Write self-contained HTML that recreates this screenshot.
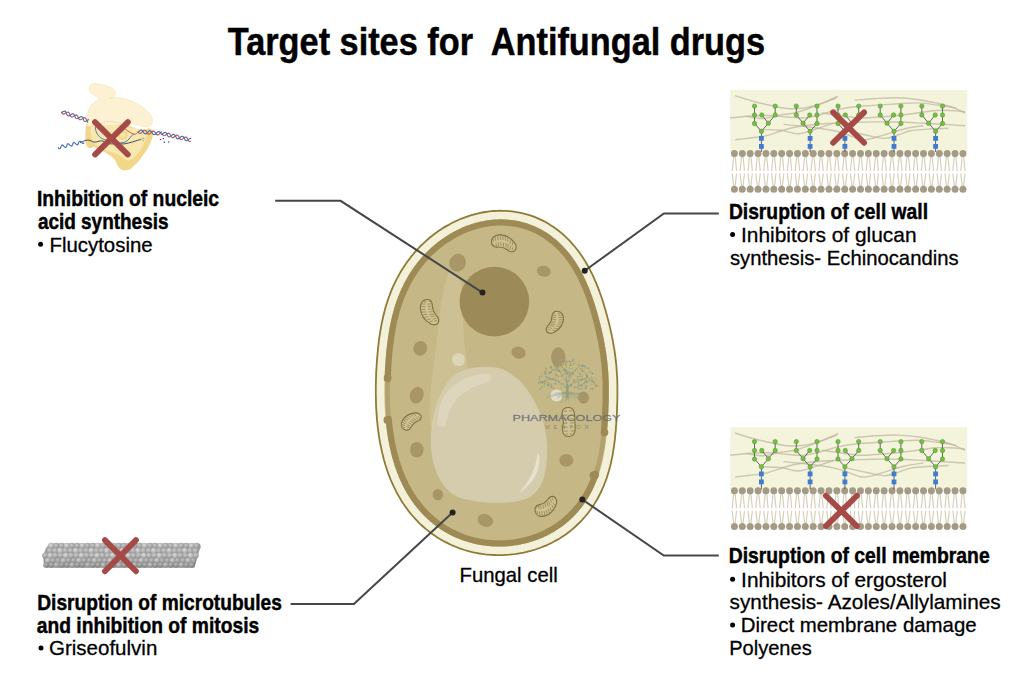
<!DOCTYPE html>
<html><head><meta charset="utf-8"><style>
html,body{margin:0;padding:0;background:#fff;}
body{width:1024px;height:677px;overflow:hidden;}
svg{display:block;font-family:"Liberation Sans", sans-serif;}
</style></head><body>
<svg width="1024" height="677" viewBox="0 0 1024 677">

<g id="cell">
 <path d="M 497.0,210.8 L 500.0,210.7 L 503.0,210.8 L 506.0,210.9 L 509.0,211.1 L 512.0,211.4 L 514.9,211.8 L 517.9,212.3 L 520.8,212.9 L 523.7,213.6 L 526.6,214.3 L 529.5,215.2 L 532.3,216.2 L 535.1,217.2 L 537.9,218.4 L 540.6,219.6 L 543.3,220.9 L 545.9,222.3 L 548.5,223.8 L 551.0,225.4 L 553.5,227.0 L 555.9,228.7 L 558.3,230.5 L 560.6,232.4 L 562.9,234.3 L 565.1,236.3 L 567.2,238.3 L 569.3,240.4 L 571.3,242.6 L 573.2,244.8 L 575.1,247.0 L 576.9,249.3 L 578.7,251.6 L 580.4,253.9 L 582.0,256.3 L 583.6,258.7 L 585.1,261.1 L 586.5,263.5 L 587.9,266.0 L 589.3,268.4 L 590.5,270.9 L 591.8,273.4 L 593.0,275.8 L 594.1,278.3 L 595.2,280.8 L 596.2,283.2 L 597.2,285.7 L 598.2,288.1 L 599.1,290.6 L 600.0,293.0 L 600.8,295.4 L 601.7,297.8 L 602.5,300.2 L 603.2,302.5 L 603.9,304.9 L 604.6,307.2 L 605.3,309.6 L 606.0,311.9 L 606.6,314.2 L 607.2,316.4 L 607.8,318.7 L 608.4,321.0 L 609.0,323.2 L 609.5,325.4 L 610.0,327.6 L 610.5,329.8 L 611.0,332.0 L 611.5,334.2 L 611.9,336.4 L 612.4,338.5 L 612.8,340.7 L 613.2,342.8 L 613.5,345.0 L 613.9,347.1 L 614.3,349.2 L 614.6,351.4 L 614.9,353.5 L 615.2,355.6 L 615.5,357.7 L 615.7,359.8 L 615.9,362.0 L 616.2,364.1 L 616.4,366.2 L 616.5,368.3 L 616.7,370.4 L 616.8,372.5 L 617.0,374.6 L 617.1,376.7 L 617.2,378.8 L 617.3,380.9 L 617.3,383.0 L 617.4,385.1 L 617.4,387.3 L 617.4,389.4 L 617.4,391.5 L 617.4,393.6 L 617.4,395.7 L 617.4,397.9 L 617.3,400.0 L 617.3,402.2 L 617.2,404.3 L 617.1,406.5 L 617.1,408.7 L 617.0,410.9 L 616.9,413.1 L 616.8,415.3 L 616.6,417.5 L 616.5,419.8 L 616.4,422.0 L 616.2,424.3 L 616.0,426.6 L 615.9,428.9 L 615.7,431.3 L 615.4,433.6 L 615.2,436.0 L 615.0,438.4 L 614.7,440.8 L 614.4,443.2 L 614.1,445.6 L 613.7,448.1 L 613.3,450.6 L 612.9,453.1 L 612.5,455.6 L 612.0,458.1 L 611.4,460.6 L 610.9,463.2 L 610.3,465.7 L 609.6,468.3 L 608.9,470.9 L 608.1,473.5 L 607.3,476.1 L 606.5,478.6 L 605.5,481.2 L 604.5,483.8 L 603.5,486.4 L 602.4,488.9 L 601.2,491.5 L 600.0,494.0 L 598.7,496.5 L 597.4,499.0 L 595.9,501.4 L 594.5,503.9 L 592.9,506.3 L 591.3,508.6 L 589.6,511.0 L 587.9,513.3 L 586.0,515.5 L 584.2,517.7 L 582.2,519.9 L 580.2,522.0 L 578.1,524.0 L 576.0,526.0 L 573.8,528.0 L 571.6,529.9 L 569.3,531.7 L 567.0,533.5 L 564.6,535.2 L 562.1,536.8 L 559.6,538.4 L 557.1,539.9 L 554.5,541.3 L 551.9,542.7 L 549.2,544.0 L 546.5,545.3 L 543.7,546.4 L 541.0,547.5 L 538.2,548.5 L 535.4,549.5 L 532.5,550.4 L 529.6,551.2 L 526.7,551.9 L 523.8,552.6 L 520.9,553.1 L 517.9,553.6 L 515.0,554.1 L 512.0,554.4 L 509.0,554.7 L 506.0,554.9 L 503.0,555.1 L 500.0,555.1 L 497.0,555.1 L 494.0,555.0 L 491.0,554.9 L 488.0,554.6 L 485.1,554.3 L 482.1,553.9 L 479.1,553.5 L 476.2,552.9 L 473.3,552.3 L 470.4,551.6 L 467.5,550.8 L 464.6,550.0 L 461.8,549.1 L 459.0,548.1 L 456.2,547.0 L 453.5,545.9 L 450.8,544.7 L 448.1,543.4 L 445.5,542.1 L 442.9,540.7 L 440.3,539.2 L 437.8,537.7 L 435.4,536.1 L 433.0,534.4 L 430.6,532.7 L 428.3,530.9 L 426.0,529.1 L 423.8,527.2 L 421.6,525.3 L 419.5,523.3 L 417.5,521.2 L 415.5,519.2 L 413.6,517.0 L 411.7,514.9 L 409.9,512.7 L 408.1,510.4 L 406.5,508.1 L 404.8,505.8 L 403.2,503.5 L 401.7,501.2 L 400.3,498.8 L 398.9,496.4 L 397.5,494.0 L 396.2,491.6 L 395.0,489.1 L 393.8,486.7 L 392.7,484.2 L 391.6,481.8 L 390.5,479.3 L 389.6,476.8 L 388.6,474.4 L 387.7,471.9 L 386.9,469.5 L 386.1,467.0 L 385.3,464.5 L 384.6,462.1 L 383.9,459.7 L 383.3,457.2 L 382.7,454.8 L 382.1,452.4 L 381.6,450.0 L 381.1,447.6 L 380.6,445.2 L 380.1,442.9 L 379.7,440.5 L 379.3,438.2 L 378.9,435.8 L 378.6,433.5 L 378.3,431.2 L 378.0,428.9 L 377.7,426.7 L 377.5,424.4 L 377.2,422.1 L 377.0,419.9 L 376.8,417.7 L 376.7,415.4 L 376.5,413.2 L 376.4,411.0 L 376.2,408.8 L 376.1,406.6 L 376.0,404.5 L 376.0,402.3 L 375.9,400.1 L 375.9,398.0 L 375.8,395.8 L 375.8,393.7 L 375.8,391.5 L 375.8,389.4 L 375.8,387.3 L 375.8,385.1 L 375.9,383.0 L 375.9,380.9 L 376.0,378.8 L 376.1,376.6 L 376.1,374.5 L 376.2,372.4 L 376.3,370.3 L 376.5,368.1 L 376.6,366.0 L 376.7,363.9 L 376.9,361.7 L 377.0,359.6 L 377.2,357.4 L 377.4,355.2 L 377.6,353.1 L 377.8,350.9 L 378.0,348.7 L 378.2,346.5 L 378.5,344.3 L 378.7,342.1 L 379.0,339.8 L 379.3,337.6 L 379.7,335.3 L 380.0,333.1 L 380.4,330.8 L 380.8,328.5 L 381.2,326.2 L 381.6,323.9 L 382.1,321.6 L 382.6,319.2 L 383.1,316.9 L 383.7,314.6 L 384.3,312.2 L 384.9,309.8 L 385.5,307.5 L 386.2,305.1 L 387.0,302.7 L 387.8,300.3 L 388.6,297.9 L 389.5,295.5 L 390.4,293.1 L 391.3,290.7 L 392.3,288.3 L 393.4,285.9 L 394.5,283.6 L 395.6,281.2 L 396.8,278.8 L 398.1,276.5 L 399.4,274.1 L 400.7,271.8 L 402.1,269.5 L 403.6,267.2 L 405.1,264.9 L 406.7,262.6 L 408.3,260.4 L 410.0,258.2 L 411.7,256.0 L 413.5,253.8 L 415.3,251.7 L 417.2,249.6 L 419.1,247.6 L 421.1,245.5 L 423.2,243.6 L 425.3,241.6 L 427.4,239.7 L 429.6,237.8 L 431.8,236.0 L 434.1,234.2 L 436.5,232.5 L 438.8,230.8 L 441.3,229.2 L 443.7,227.6 L 446.3,226.1 L 448.8,224.7 L 451.4,223.3 L 454.0,222.0 L 456.7,220.7 L 459.4,219.5 L 462.2,218.4 L 465.0,217.3 L 467.8,216.3 L 470.6,215.4 L 473.5,214.6 L 476.3,213.8 L 479.3,213.1 L 482.2,212.5 L 485.1,212.0 L 488.1,211.6 L 491.1,211.2 L 494.0,211.0 Z" fill="#f3f1da" stroke="#8f7b36" stroke-width="1.8"/>
 <path d="M 497.4,219.4 L 500.1,219.3 L 502.8,219.4 L 505.6,219.5 L 508.3,219.7 L 511.0,219.9 L 513.7,220.3 L 516.3,220.7 L 519.0,221.3 L 521.6,221.9 L 524.3,222.6 L 526.9,223.4 L 529.4,224.3 L 532.0,225.2 L 534.5,226.3 L 536.9,227.4 L 539.3,228.6 L 541.7,229.8 L 544.1,231.2 L 546.4,232.6 L 548.6,234.1 L 550.9,235.7 L 553.0,237.3 L 555.1,239.0 L 557.2,240.8 L 559.2,242.6 L 561.2,244.5 L 563.1,246.4 L 564.9,248.4 L 566.7,250.4 L 568.5,252.5 L 570.1,254.6 L 571.8,256.7 L 573.3,258.9 L 574.9,261.1 L 576.3,263.3 L 577.7,265.6 L 579.1,267.9 L 580.4,270.2 L 581.7,272.5 L 582.9,274.8 L 584.1,277.1 L 585.2,279.5 L 586.3,281.8 L 587.3,284.2 L 588.3,286.5 L 589.2,288.9 L 590.2,291.2 L 591.0,293.6 L 591.9,295.9 L 592.7,298.2 L 593.5,300.5 L 594.3,302.8 L 595.0,305.1 L 595.7,307.4 L 596.4,309.7 L 597.1,311.9 L 597.7,314.2 L 598.3,316.4 L 598.9,318.7 L 599.5,320.9 L 600.1,323.1 L 600.6,325.2 L 601.1,327.4 L 601.6,329.6 L 602.1,331.7 L 602.6,333.8 L 603.1,336.0 L 603.5,338.1 L 603.9,340.2 L 604.3,342.3 L 604.7,344.4 L 605.1,346.5 L 605.4,348.5 L 605.8,350.6 L 606.1,352.6 L 606.4,354.7 L 606.7,356.8 L 606.9,358.8 L 607.2,360.8 L 607.4,362.9 L 607.6,364.9 L 607.8,366.9 L 608.0,369.0 L 608.1,371.0 L 608.3,373.0 L 608.4,375.1 L 608.5,377.1 L 608.6,379.2 L 608.7,381.2 L 608.7,383.2 L 608.8,385.3 L 608.8,387.4 L 608.8,389.4 L 608.8,391.5 L 608.8,393.6 L 608.8,395.7 L 608.8,397.7 L 608.7,399.8 L 608.7,402.0 L 608.6,404.1 L 608.6,406.2 L 608.5,408.4 L 608.4,410.5 L 608.3,412.7 L 608.2,414.9 L 608.1,417.1 L 607.9,419.3 L 607.8,421.5 L 607.6,423.7 L 607.5,426.0 L 607.3,428.2 L 607.1,430.5 L 606.9,432.8 L 606.7,435.1 L 606.4,437.4 L 606.1,439.7 L 605.9,442.1 L 605.5,444.5 L 605.2,446.8 L 604.8,449.2 L 604.4,451.6 L 604.0,454.0 L 603.5,456.4 L 603.0,458.8 L 602.5,461.3 L 601.9,463.7 L 601.3,466.1 L 600.6,468.5 L 599.9,471.0 L 599.1,473.4 L 598.3,475.8 L 597.5,478.2 L 596.5,480.6 L 595.6,483.0 L 594.5,485.4 L 593.5,487.8 L 592.3,490.1 L 591.1,492.5 L 589.9,494.8 L 588.6,497.0 L 587.2,499.3 L 585.7,501.5 L 584.3,503.7 L 582.7,505.8 L 581.1,507.9 L 579.4,510.0 L 577.7,512.0 L 575.9,514.0 L 574.1,516.0 L 572.2,517.9 L 570.2,519.7 L 568.2,521.5 L 566.1,523.2 L 564.0,524.9 L 561.9,526.5 L 559.7,528.1 L 557.4,529.6 L 555.1,531.1 L 552.8,532.5 L 550.4,533.8 L 548.0,535.0 L 545.5,536.3 L 543.0,537.4 L 540.5,538.5 L 537.9,539.5 L 535.3,540.4 L 532.7,541.3 L 530.1,542.1 L 527.4,542.9 L 524.7,543.5 L 522.0,544.1 L 519.3,544.7 L 516.6,545.2 L 513.8,545.6 L 511.1,545.9 L 508.3,546.2 L 505.5,546.4 L 502.7,546.5 L 499.9,546.5 L 497.2,546.5 L 494.4,546.4 L 491.6,546.3 L 488.8,546.1 L 486.1,545.8 L 483.3,545.4 L 480.6,545.0 L 477.9,544.5 L 475.2,543.9 L 472.5,543.3 L 469.8,542.6 L 467.2,541.8 L 464.6,540.9 L 462.0,540.0 L 459.4,539.1 L 456.9,538.0 L 454.4,536.9 L 451.9,535.7 L 449.5,534.5 L 447.1,533.2 L 444.7,531.8 L 442.4,530.4 L 440.1,528.9 L 437.9,527.4 L 435.7,525.8 L 433.6,524.2 L 431.5,522.5 L 429.5,520.7 L 427.5,518.9 L 425.5,517.1 L 423.7,515.2 L 421.8,513.3 L 420.0,511.3 L 418.3,509.3 L 416.6,507.3 L 415.0,505.2 L 413.4,503.1 L 411.9,500.9 L 410.4,498.8 L 409.0,496.6 L 407.6,494.4 L 406.3,492.1 L 405.0,489.9 L 403.8,487.6 L 402.7,485.3 L 401.6,483.0 L 400.5,480.7 L 399.5,478.4 L 398.5,476.1 L 397.6,473.7 L 396.7,471.4 L 395.8,469.1 L 395.0,466.7 L 394.3,464.4 L 393.6,462.1 L 392.9,459.7 L 392.2,457.4 L 391.6,455.1 L 391.0,452.8 L 390.5,450.5 L 390.0,448.2 L 389.5,445.9 L 389.0,443.6 L 388.6,441.3 L 388.2,439.1 L 387.8,436.8 L 387.4,434.6 L 387.1,432.3 L 386.8,430.1 L 386.5,427.9 L 386.3,425.7 L 386.0,423.5 L 385.8,421.3 L 385.6,419.1 L 385.4,417.0 L 385.2,414.8 L 385.1,412.7 L 385.0,410.5 L 384.8,408.4 L 384.7,406.3 L 384.6,404.1 L 384.6,402.0 L 384.5,399.9 L 384.5,397.8 L 384.4,395.7 L 384.4,393.6 L 384.4,391.5 L 384.4,389.4 L 384.4,387.4 L 384.4,385.3 L 384.5,383.2 L 384.5,381.1 L 384.6,379.0 L 384.7,377.0 L 384.7,374.9 L 384.8,372.8 L 384.9,370.7 L 385.0,368.6 L 385.2,366.5 L 385.3,364.4 L 385.4,362.3 L 385.6,360.2 L 385.8,358.1 L 385.9,356.0 L 386.1,353.9 L 386.3,351.7 L 386.5,349.6 L 386.8,347.4 L 387.0,345.3 L 387.3,343.1 L 387.6,341.0 L 387.8,338.8 L 388.2,336.6 L 388.5,334.4 L 388.8,332.2 L 389.2,330.0 L 389.6,327.8 L 390.0,325.6 L 390.5,323.3 L 391.0,321.1 L 391.5,318.8 L 392.0,316.6 L 392.6,314.3 L 393.2,312.1 L 393.8,309.8 L 394.5,307.6 L 395.2,305.3 L 395.9,303.0 L 396.7,300.8 L 397.5,298.5 L 398.4,296.2 L 399.3,294.0 L 400.2,291.7 L 401.2,289.5 L 402.3,287.2 L 403.3,285.0 L 404.5,282.8 L 405.6,280.6 L 406.9,278.4 L 408.1,276.2 L 409.4,274.0 L 410.8,271.9 L 412.2,269.7 L 413.7,267.6 L 415.2,265.5 L 416.8,263.4 L 418.4,261.4 L 420.0,259.4 L 421.8,257.4 L 423.5,255.4 L 425.3,253.5 L 427.2,251.6 L 429.1,249.8 L 431.0,248.0 L 433.0,246.2 L 435.1,244.4 L 437.2,242.7 L 439.3,241.1 L 441.5,239.5 L 443.7,237.9 L 446.0,236.4 L 448.3,235.0 L 450.6,233.6 L 453.0,232.2 L 455.4,230.9 L 457.8,229.7 L 460.3,228.5 L 462.8,227.4 L 465.4,226.3 L 467.9,225.4 L 470.5,224.5 L 473.1,223.6 L 475.8,222.8 L 478.4,222.1 L 481.1,221.5 L 483.8,221.0 L 486.5,220.5 L 489.2,220.1 L 491.9,219.8 L 494.6,219.6 Z" fill="#c6b886"/>
 <path d="M 603.7,433.6 L 603.6,434.8 L 603.5,435.9 L 603.3,437.1 L 603.2,438.2 L 603.1,439.4 L 602.9,440.5 L 602.8,441.7 L 602.6,442.9 L 602.5,444.0 L 602.3,445.2 L 602.1,446.4 L 602.0,447.5 L 601.8,448.7 L 601.6,449.9 L 601.4,451.1 L 601.2,452.2 L 601.0,453.4 L 600.7,454.6 L 600.5,455.8 L 600.3,457.0 L 600.0,458.2 L 599.7,459.4 L 599.5,460.6 L 599.2,461.7 L 598.9,462.9 L 598.6,464.1 L 598.3,465.3 L 598.0,466.5 L 597.6,467.7 L 597.3,468.9 L 596.9,470.1 L 596.6,471.3 L 596.2,472.4 M 388.6,417.8 L 388.5,416.7 L 388.4,415.6 L 388.3,414.6 L 388.3,413.5 L 388.2,412.4 L 388.1,411.4 L 388.0,410.3 L 388.0,409.3 L 387.9,408.2 L 387.9,407.2 L 387.8,406.1 L 387.8,405.1 L 387.7,404.0 L 387.7,403.0 L 387.7,401.9 L 387.6,400.9 L 387.6,399.8 L 387.6,398.8 L 387.6,397.8 L 387.5,396.7 L 387.5,395.7 L 387.5,394.6 L 387.5,393.6 L 387.5,392.6 L 387.5,391.5 L 387.5,390.5 L 387.5,389.5 L 387.5,388.4 L 387.5,387.4 L 387.5,386.4 L 387.5,385.3 L 387.6,384.3 L 387.6,383.3 L 387.6,382.2 L 387.6,381.2 L 387.7,380.2" fill="none" stroke="#b3a270" stroke-width="4.6"/>
 <path d="M 595.8,473.6 L 595.4,474.8 L 595.0,476.0 L 594.6,477.2 L 594.1,478.3 L 593.7,479.5 L 593.2,480.7 L 592.7,481.8 L 592.2,483.0 L 591.7,484.2 L 591.2,485.3 L 590.7,486.5 L 590.1,487.6 L 589.6,488.8 L 589.0,489.9 L 588.4,491.0 L 587.8,492.1 L 587.2,493.2 L 586.5,494.4 L 585.9,495.5 L 585.2,496.5 L 584.6,497.6 L 583.9,498.7 L 583.2,499.8 L 582.5,500.8 L 581.7,501.9 L 581.0,502.9 L 580.2,504.0 L 579.4,505.0 L 578.7,506.0 L 577.8,507.0 L 577.0,508.0 L 576.2,509.0 L 575.4,510.0 L 574.5,511.0 L 573.6,511.9 L 572.7,512.9 L 571.8,513.8 L 570.9,514.7 L 570.0,515.6 L 569.1,516.5 L 568.1,517.4 L 567.1,518.3 L 566.2,519.1 L 565.2,520.0 L 564.2,520.8 L 563.2,521.6 L 562.1,522.5 L 561.1,523.2 L 560.0,524.0 L 559.0,524.8 L 557.9,525.5 L 556.8,526.3 L 555.7,527.0 L 554.6,527.7 L 553.5,528.4 L 552.4,529.1 L 551.2,529.8 L 550.1,530.4 L 548.9,531.1 L 547.7,531.7 L 546.6,532.3 L 545.4,532.9 L 544.2,533.5 L 543.0,534.0 L 541.8,534.6 L 540.5,535.1 L 539.3,535.6 L 538.1,536.1 L 536.8,536.6 L 535.6,537.0 L 534.3,537.5 L 533.0,537.9 L 531.8,538.4 L 530.5,538.8 L 529.2,539.1 L 527.9,539.5 L 526.6,539.9 L 525.3,540.2 L 524.0,540.5 L 522.7,540.8 L 521.4,541.1 L 520.1,541.4 L 518.7,541.6 L 517.4,541.9 L 516.1,542.1 L 514.7,542.3 L 513.4,542.5 L 512.1,542.7 L 510.7,542.8 L 509.4,542.9 L 508.0,543.1 L 506.7,543.2 L 505.3,543.3 L 504.0,543.3 L 502.6,543.4 L 501.3,543.4 L 499.9,543.4 L 498.6,543.4 L 497.2,543.4 L 495.9,543.4 L 494.5,543.3 L 493.2,543.3 L 491.8,543.2 L 490.5,543.1 L 489.1,543.0 L 487.8,542.8 L 486.4,542.7 L 485.1,542.5 L 483.8,542.3 L 482.4,542.1 L 481.1,541.9 L 479.8,541.7 L 478.5,541.4 L 477.2,541.2 L 475.8,540.9 L 474.5,540.6 L 473.2,540.3 L 471.9,539.9 L 470.7,539.6 L 469.4,539.2 L 468.1,538.8 L 466.8,538.4 L 465.5,538.0 L 464.3,537.6 L 463.0,537.1 L 461.8,536.7 L 460.5,536.2 L 459.3,535.7 L 458.1,535.2 L 456.9,534.6 L 455.7,534.1 L 454.5,533.5 L 453.3,532.9 L 452.1,532.4 L 450.9,531.8 L 449.8,531.1 L 448.6,530.5 L 447.5,529.8 L 446.3,529.2 L 445.2,528.5 L 444.1,527.8 L 443.0,527.1 L 441.9,526.4 L 440.8,525.6 L 439.7,524.9 L 438.6,524.1 L 437.6,523.3 L 436.6,522.6 L 435.5,521.8 L 434.5,520.9 L 433.5,520.1 L 432.5,519.3 L 431.5,518.4 L 430.5,517.5 L 429.6,516.7 L 428.6,515.8 L 427.7,514.9 L 426.8,514.0 L 425.9,513.1 L 425.0,512.1 L 424.1,511.2 L 423.2,510.2 L 422.3,509.3 L 421.5,508.3 L 420.7,507.3 L 419.8,506.3 L 419.0,505.3 L 418.2,504.3 L 417.4,503.3 L 416.7,502.3 L 415.9,501.3 L 415.2,500.2 L 414.4,499.2 L 413.7,498.1 L 413.0,497.1 L 412.3,496.0 L 411.6,494.9 L 410.9,493.8 L 410.3,492.8 L 409.6,491.7 L 409.0,490.6 L 408.4,489.5 L 407.8,488.4 L 407.2,487.3 L 406.6,486.2 L 406.0,485.1 L 405.5,483.9 L 404.9,482.8 L 404.4,481.7 L 403.8,480.6 L 403.3,479.4 L 402.8,478.3 L 402.3,477.2 L 401.8,476.0 L 401.4,474.9 L 400.9,473.7 L 400.5,472.6 L 400.0,471.5 L 399.6,470.3 L 399.2,469.2 L 398.8,468.0 L 398.4,466.9 L 398.0,465.7 L 397.6,464.6 L 397.2,463.5 L 396.9,462.3 L 396.5,461.2 L 396.2,460.0 L 395.9,458.9 L 395.5,457.7 L 395.2,456.6 L 394.9,455.4 L 394.6,454.3 L 394.3,453.2 L 394.0,452.0 L 393.8,450.9 L 393.5,449.8 L 393.2,448.6 L 393.0,447.5 L 392.7,446.4 L 392.5,445.2 L 392.3,444.1 L 392.1,443.0 L 391.8,441.9 L 391.6,440.8 L 391.4,439.6 L 391.2,438.5 L 391.0,437.4 L 390.9,436.3 L 390.7,435.2 L 390.5,434.1 L 390.3,433.0 L 390.2,431.9 L 390.0,430.8 L 389.9,429.7 L 389.7,428.6 L 389.6,427.5 L 389.5,426.4 L 389.3,425.3 L 389.2,424.2 L 389.1,423.2 L 389.0,422.1 L 388.9,421.0 L 388.8,419.9 L 388.7,418.8 M 387.7,379.1 L 387.7,378.1 L 387.8,377.1 L 387.8,376.0 L 387.8,375.0 L 387.9,374.0 L 387.9,372.9 L 388.0,371.9 L 388.0,370.9 L 388.1,369.8 L 388.1,368.8 L 388.2,367.7 L 388.3,366.7 L 388.3,365.7 L 388.4,364.6 L 388.5,363.6 L 388.5,362.5 L 388.6,361.5 L 388.7,360.4 L 388.8,359.4 L 388.8,358.3 L 388.9,357.3 L 389.0,356.2 L 389.1,355.2 L 389.2,354.1 L 389.3,353.1 L 389.4,352.0 L 389.5,351.0 L 389.6,349.9 L 389.7,348.8 L 389.8,347.8 L 390.0,346.7 L 390.1,345.6 L 390.2,344.6 L 390.4,343.5 L 390.5,342.4 L 390.6,341.4 L 390.8,340.3 L 390.9,339.2 L 391.1,338.1 L 391.2,337.0 L 391.4,336.0 L 391.6,334.9 L 391.7,333.8 L 391.9,332.7 L 392.1,331.6 L 392.3,330.5 L 392.5,329.4 L 392.7,328.3 L 392.9,327.2 L 393.1,326.2 L 393.3,325.1 L 393.5,324.0 L 393.8,322.9 L 394.0,321.8 L 394.2,320.6 L 394.5,319.5 L 394.8,318.4 L 395.0,317.3 L 395.3,316.2 L 395.6,315.1 L 395.9,314.0 L 396.2,312.9 L 396.5,311.8 L 396.8,310.7 L 397.1,309.6 L 397.4,308.5 L 397.8,307.3 L 398.1,306.2 L 398.5,305.1 L 398.9,304.0 L 399.2,302.9 L 399.6,301.8 L 400.0,300.7 L 400.4,299.6 L 400.8,298.5 L 401.3,297.4 L 401.7,296.3 L 402.2,295.1 L 402.6,294.0 L 403.1,292.9 L 403.6,291.8 L 404.0,290.7 L 404.6,289.6 L 405.1,288.6 L 405.6,287.5 L 406.1,286.4 L 406.7,285.3 L 407.2,284.2 L 407.8,283.1 L 408.4,282.0 L 409.0,281.0 L 409.6,279.9 L 410.2,278.8 L 410.8,277.8 L 411.4,276.7 L 412.1,275.6 L 412.7,274.6 L 413.4,273.5 L 414.1,272.5 L 414.8,271.5 L 415.5,270.4 L 416.2,269.4 L 417.0,268.4 L 417.7,267.4 L 418.5,266.3 L 419.2,265.3 L 420.0,264.3 L 420.8,263.4 L 421.6,262.4 L 422.4,261.4 L 423.2,260.4 L 424.1,259.5 L 424.9,258.5 L 425.8,257.5 L 426.7,256.6 L 427.6,255.7 L 428.5,254.7 L 429.4,253.8 L 430.3,252.9 L 431.2,252.0 L 432.2,251.1 L 433.1,250.3 L 434.1,249.4 L 435.1,248.5 L 436.1,247.7 L 437.1,246.8 L 438.1,246.0 L 439.1,245.2 L 440.1,244.4 L 441.2,243.6 L 442.2,242.8 L 443.3,242.0 L 444.4,241.2 L 445.5,240.5 L 446.5,239.7 L 447.7,239.0 L 448.8,238.3 L 449.9,237.6 L 451.0,236.9 L 452.2,236.2 L 453.3,235.6 L 454.5,234.9 L 455.6,234.3 L 456.8,233.7 L 458.0,233.1 L 459.2,232.5 L 460.4,231.9 L 461.6,231.3 L 462.8,230.8 L 464.0,230.2 L 465.3,229.7 L 466.5,229.2 L 467.7,228.7 L 469.0,228.3 L 470.2,227.8 L 471.5,227.4 L 472.8,227.0 L 474.0,226.6 L 475.3,226.2 L 476.6,225.8 L 477.9,225.5 L 479.2,225.1 L 480.5,224.8 L 481.8,224.5 L 483.1,224.3 L 484.4,224.0 L 485.7,223.8 L 487.0,223.6 L 488.3,223.4 L 489.6,223.2 L 490.9,223.0 L 492.2,222.9 L 493.5,222.8 L 494.9,222.7 L 496.2,222.6 L 497.5,222.5 L 498.8,222.5 L 500.1,222.4 L 501.4,222.4 L 502.8,222.5 L 504.1,222.5 L 505.4,222.6 L 506.7,222.6 L 508.0,222.8 L 509.3,222.9 L 510.6,223.0 L 511.9,223.2 L 513.2,223.4 L 514.5,223.6 L 515.8,223.8 L 517.1,224.0 L 518.4,224.3 L 519.6,224.6 L 520.9,224.9 L 522.2,225.2 L 523.4,225.6 L 524.7,225.9 L 525.9,226.3 L 527.1,226.7 L 528.4,227.2 L 529.6,227.6 L 530.8,228.1 L 532.0,228.6 L 533.2,229.1 L 534.4,229.6 L 535.6,230.2 L 536.8,230.7 L 537.9,231.3 L 539.1,231.9 L 540.2,232.6 L 541.4,233.2 L 542.5,233.9 L 543.6,234.5 L 544.7,235.2 L 545.8,235.9 L 546.9,236.7 L 548.0,237.4 L 549.0,238.2 L 550.1,239.0 L 551.1,239.8 L 552.1,240.6 L 553.2,241.4 L 554.2,242.2 L 555.2,243.1 L 556.1,244.0 L 557.1,244.9 L 558.1,245.8 L 559.0,246.7 L 559.9,247.6 L 560.8,248.5 L 561.7,249.5 L 562.6,250.5 L 563.5,251.4 L 564.4,252.4 L 565.2,253.4 L 566.1,254.4 L 566.9,255.4 L 567.7,256.5 L 568.5,257.5 L 569.3,258.6 L 570.1,259.6 L 570.8,260.7 L 571.6,261.8 L 572.3,262.8 L 573.0,263.9 L 573.7,265.0 L 574.4,266.1 L 575.1,267.2 L 575.8,268.3 L 576.4,269.4 L 577.1,270.6 L 577.7,271.7 L 578.3,272.8 L 578.9,273.9 L 579.5,275.1 L 580.1,276.2 L 580.7,277.4 L 581.3,278.5 L 581.8,279.7 L 582.4,280.8 L 582.9,282.0 L 583.4,283.1 L 583.9,284.3 L 584.4,285.4 L 584.9,286.6 L 585.4,287.7 L 585.9,288.9 L 586.4,290.0 L 586.8,291.2 L 587.3,292.3 L 587.7,293.5 L 588.1,294.6 L 588.6,295.8 L 589.0,296.9 L 589.4,298.1 L 589.8,299.2 L 590.2,300.4 L 590.6,301.5 L 591.0,302.7 L 591.3,303.8 L 591.7,304.9 L 592.1,306.1 L 592.4,307.2 L 592.8,308.3 L 593.1,309.5 L 593.4,310.6 L 593.8,311.7 L 594.1,312.8 L 594.4,313.9 L 594.7,315.0 L 595.0,316.1 L 595.3,317.2 L 595.6,318.3 L 595.9,319.4 L 596.2,320.5 L 596.5,321.6 L 596.8,322.7 L 597.1,323.8 L 597.3,324.9 L 597.6,326.0 L 597.9,327.1 L 598.1,328.1 L 598.4,329.2 L 598.6,330.3 L 598.9,331.3 L 599.1,332.4 L 599.3,333.5 L 599.6,334.5 L 599.8,335.6 L 600.0,336.6 L 600.2,337.7 L 600.5,338.7 L 600.7,339.8 L 600.9,340.8 L 601.1,341.8 L 601.3,342.9 L 601.5,343.9 L 601.7,344.9 L 601.8,346.0 L 602.0,347.0 L 602.2,348.0 L 602.4,349.0 L 602.5,350.1 L 602.7,351.1 L 602.9,352.1 L 603.0,353.1 L 603.2,354.1 L 603.3,355.1 L 603.4,356.1 L 603.6,357.2 L 603.7,358.2 L 603.8,359.2 L 604.0,360.2 L 604.1,361.2 L 604.2,362.2 L 604.3,363.2 L 604.4,364.2 L 604.5,365.2 L 604.6,366.2 L 604.7,367.2 L 604.8,368.2 L 604.9,369.2 L 605.0,370.2 L 605.0,371.2 L 605.1,372.2 L 605.2,373.2 L 605.2,374.2 L 605.3,375.3 L 605.3,376.3 L 605.4,377.3 L 605.4,378.3 L 605.5,379.3 L 605.5,380.3 L 605.6,381.3 L 605.6,382.3 L 605.6,383.3 L 605.6,384.3 L 605.7,385.4 L 605.7,386.4 L 605.7,387.4 L 605.7,388.4 L 605.7,389.4 L 605.7,390.5 L 605.7,391.5 L 605.7,392.5 L 605.7,393.6 L 605.7,394.6 L 605.7,395.6 L 605.7,396.7 L 605.7,397.7 L 605.7,398.7 L 605.6,399.8 L 605.6,400.8 L 605.6,401.9 L 605.6,402.9 L 605.5,404.0 L 605.5,405.0 L 605.5,406.1 L 605.4,407.2 L 605.4,408.2 L 605.3,409.3 L 605.3,410.4 L 605.2,411.5 L 605.2,412.5 L 605.1,413.6 L 605.1,414.7 L 605.0,415.8 L 605.0,416.9 L 604.9,418.0 L 604.8,419.1 L 604.8,420.2 L 604.7,421.3 L 604.6,422.4 L 604.5,423.5 L 604.5,424.6 L 604.4,425.7 L 604.3,426.8 L 604.2,428.0 L 604.1,429.1 L 604.0,430.2 L 603.9,431.4 L 603.8,432.5" fill="none" stroke="#9e8a55" stroke-width="6.2" stroke-linecap="round"/>
 <g fill="#9e8a55"><circle cx="387.6" cy="378" r="3.9"/><circle cx="387.4" cy="420" r="3.9"/><circle cx="604.6" cy="432.5" r="3.7"/><circle cx="594.2" cy="475.5" r="4.6"/></g>
 <path d="M 449,273 C 455,270 460,276 462,290 L 464,340 C 468,370 472,395 470,420 C 460,438 440,440 430,425 C 428,400 433,370 437,340 C 440,310 443,285 449,273 Z" fill="#cfc397" opacity="0.75"/>
 <circle cx="494.4" cy="301.6" r="34.8" fill="#9c8a58"/>
 <ellipse cx="457.6" cy="262.7" rx="8.2" ry="9.0" transform="rotate(25 457.6 262.7)" fill="#a99668"/><ellipse cx="543.8" cy="271.2" rx="7.0" ry="5.5" transform="rotate(10 543.8 271.2)" fill="#a99668"/><ellipse cx="420.3" cy="348.4" rx="6.8" ry="7.5" transform="rotate(20 420.3 348.4)" fill="#a99668"/><ellipse cx="518.5" cy="352.6" rx="7.3" ry="5.9" transform="rotate(20 518.5 352.6)" fill="#a99668"/><ellipse cx="558.3" cy="357.5" rx="7.2" ry="10.3" transform="rotate(0 558.3 357.5)" fill="#a99668"/><ellipse cx="416.8" cy="395.2" rx="6.8" ry="8.5" transform="rotate(20 416.8 395.2)" fill="#a99668"/><ellipse cx="416.8" cy="449.7" rx="6.8" ry="7.8" transform="rotate(0 416.8 449.7)" fill="#a99668"/><ellipse cx="437.9" cy="494.8" rx="5.2" ry="5.7" transform="rotate(0 437.9 494.8)" fill="#a99668"/><ellipse cx="485.4" cy="520.4" rx="8.0" ry="6.3" transform="rotate(20 485.4 520.4)" fill="#a99668"/><ellipse cx="566.3" cy="460.3" rx="7.0" ry="6.3" transform="rotate(0 566.3 460.3)" fill="#a99668"/><ellipse cx="583.5" cy="397.7" rx="5.5" ry="6.2" transform="rotate(0 583.5 397.7)" fill="#a99668"/>
 <circle cx="458.5" cy="359.6" r="6.5" fill="#ddd5b6"/>
 <path d="M 481.9,366.9 C 498,366 506,370 511.7,374.5 C 520,380 526,387 530,394 C 537,405 541,414 543.7,423.7 C 546,433 547.5,442 547.2,451.2 C 547,461 546,470 543.7,478.7 C 540,488 536,493 530,497 C 520,502 508,503 495.6,502.8 C 483,502.6 471,501 461.2,498.2 C 450,494 443,486 438.3,476.4 C 434,467 431.5,457 431,446.7 C 430.6,437 431,428 432.6,419.2 C 434.5,408 438,398 442.9,389.4 C 447,382 452,376 459,372.2 C 466,368.5 474,367.2 481.9,366.9 Z" fill="#d4ccad"/>
 <path d="M 438,424 C 437,410 441,398 449,390 C 457,382 468,376 480,374 C 486,373 491,374 491.5,377 C 492,380 488,382 482,384 C 472,387 462,393 456,400 C 450,408 447,416 446,424 C 445,428 439,428 438,424 Z" fill="#ddd6bd"/>
 <path d="M 539,453.5 C 541,468 536,482 518.5,493.6 C 530,480 535,470 537.5,454 Z" fill="#e6e0cc"/>
 <g transform="translate(568.5 422) rotate(88)"><path d="M -14.5,0 C -14.5,-6 -9,-7 0,-6.3 C 9,-7 14.5,-6 14.5,0 C 14.5,6.5 9,7.3 0,5 C -9,7.3 -14.5,6.5 -14.5,0 Z" fill="#cfc293" stroke="#7f6e3e" stroke-width="1.1"/><path d="M -11,-4 l0,3 M -11,1 l0,3 M -7,-5 l0,3.5 M -7,1 l0,4 M -3,-5 l0,3.5 M -3,1 l0,3.5 M 1,-5 l0,3.5 M 1,1 l0,3.5 M 5,-5 l0,3.5 M 5,1 l0,4 M 9,-5 l0,3.5 M 9,1 l0,4 M 12,-3 l0,2.5 M 12,1 l0,2.5" stroke="#8a7a4a" stroke-width="0.7"/></g><g transform="translate(503.67 243.14) rotate(-3.90) scale(0.847 1.026)"><path d="M -14.2,-1.8 C -14.2,-6 -10,-8.3 -4.7,-8.3 C 2,-8.3 9,-4.5 13.3,1 C 15,3.5 14.6,7 12,8.4 C 9.5,9.5 6,8.5 3.3,6.4 C 0,4.2 -4,3.4 -8,3.4 C -12,3.4 -14.2,1.5 -14.2,-1.8 Z" fill="#cfc293" stroke="#7f6e3e" stroke-width="1.1" vector-effect="non-scaling-stroke"/><path d="M -12,-5 l0.5,3 M -12,0.5 l0.5,2 M -9.5,-7 l0.3,4 M -9,-1 l0,3.5 M -6.5,-7.5 l0.2,4.5 M -6.3,-1 l0,3.5 M -3.5,-7.5 l0.2,4 M -3.3,-1 l0,3.8 M -0.5,-7 l0,4 M -0.3,-0.5 l0,4.5 M 2.5,-6.3 l-0.3,4 M 2.7,0 l-0.3,4.5 M 5.5,-5 l-0.7,4 M 5.2,1 l-0.7,4.5 M 8.5,-3 l-1,4 M 8,3 l-1,4 M 11,-0.5 l-1.2,3.5 M 10.5,4.5 l-1,3" stroke="#8a7a4a" stroke-width="0.7" fill="none" vector-effect="non-scaling-stroke"/></g><g transform="translate(429.17 312.17) rotate(86.80) scale(0.903 -1.026)"><path d="M -14.2,-1.8 C -14.2,-6 -10,-8.3 -4.7,-8.3 C 2,-8.3 9,-4.5 13.3,1 C 15,3.5 14.6,7 12,8.4 C 9.5,9.5 6,8.5 3.3,6.4 C 0,4.2 -4,3.4 -8,3.4 C -12,3.4 -14.2,1.5 -14.2,-1.8 Z" fill="#cfc293" stroke="#7f6e3e" stroke-width="1.1" vector-effect="non-scaling-stroke"/><path d="M -12,-5 l0.5,3 M -12,0.5 l0.5,2 M -9.5,-7 l0.3,4 M -9,-1 l0,3.5 M -6.5,-7.5 l0.2,4.5 M -6.3,-1 l0,3.5 M -3.5,-7.5 l0.2,4 M -3.3,-1 l0,3.8 M -0.5,-7 l0,4 M -0.3,-0.5 l0,4.5 M 2.5,-6.3 l-0.3,4 M 2.7,0 l-0.3,4.5 M 5.5,-5 l-0.7,4 M 5.2,1 l-0.7,4.5 M 8.5,-3 l-1,4 M 8,3 l-1,4 M 11,-0.5 l-1.2,3.5 M 10.5,4.5 l-1,3" stroke="#8a7a4a" stroke-width="0.7" fill="none" vector-effect="non-scaling-stroke"/></g><g transform="translate(555.21 322.28) rotate(91.72) scale(0.778 0.983)"><path d="M -14.2,-1.8 C -14.2,-6 -10,-8.3 -4.7,-8.3 C 2,-8.3 9,-4.5 13.3,1 C 15,3.5 14.6,7 12,8.4 C 9.5,9.5 6,8.5 3.3,6.4 C 0,4.2 -4,3.4 -8,3.4 C -12,3.4 -14.2,1.5 -14.2,-1.8 Z" fill="#cfc293" stroke="#7f6e3e" stroke-width="1.1" vector-effect="non-scaling-stroke"/><path d="M -12,-5 l0.5,3 M -12,0.5 l0.5,2 M -9.5,-7 l0.3,4 M -9,-1 l0,3.5 M -6.5,-7.5 l0.2,4.5 M -6.3,-1 l0,3.5 M -3.5,-7.5 l0.2,4 M -3.3,-1 l0,3.8 M -0.5,-7 l0,4 M -0.3,-0.5 l0,4.5 M 2.5,-6.3 l-0.3,4 M 2.7,0 l-0.3,4.5 M 5.5,-5 l-0.7,4 M 5.2,1 l-0.7,4.5 M 8.5,-3 l-1,4 M 8,3 l-1,4 M 11,-0.5 l-1.2,3.5 M 10.5,4.5 l-1,3" stroke="#8a7a4a" stroke-width="0.7" fill="none" vector-effect="non-scaling-stroke"/></g><g transform="translate(410.48 421.08) rotate(-62.62) scale(0.730 0.897)"><path d="M -14.2,-1.8 C -14.2,-6 -10,-8.3 -4.7,-8.3 C 2,-8.3 9,-4.5 13.3,1 C 15,3.5 14.6,7 12,8.4 C 9.5,9.5 6,8.5 3.3,6.4 C 0,4.2 -4,3.4 -8,3.4 C -12,3.4 -14.2,1.5 -14.2,-1.8 Z" fill="#cfc293" stroke="#7f6e3e" stroke-width="1.1" vector-effect="non-scaling-stroke"/><path d="M -12,-5 l0.5,3 M -12,0.5 l0.5,2 M -9.5,-7 l0.3,4 M -9,-1 l0,3.5 M -6.5,-7.5 l0.2,4.5 M -6.3,-1 l0,3.5 M -3.5,-7.5 l0.2,4 M -3.3,-1 l0,3.8 M -0.5,-7 l0,4 M -0.3,-0.5 l0,4.5 M 2.5,-6.3 l-0.3,4 M 2.7,0 l-0.3,4.5 M 5.5,-5 l-0.7,4 M 5.2,1 l-0.7,4.5 M 8.5,-3 l-1,4 M 8,3 l-1,4 M 11,-0.5 l-1.2,3.5 M 10.5,4.5 l-1,3" stroke="#8a7a4a" stroke-width="0.7" fill="none" vector-effect="non-scaling-stroke"/></g><g transform="translate(546.04 507.00) rotate(-11.50) scale(0.807 -1.026)"><path d="M -14.2,-1.8 C -14.2,-6 -10,-8.3 -4.7,-8.3 C 2,-8.3 9,-4.5 13.3,1 C 15,3.5 14.6,7 12,8.4 C 9.5,9.5 6,8.5 3.3,6.4 C 0,4.2 -4,3.4 -8,3.4 C -12,3.4 -14.2,1.5 -14.2,-1.8 Z" fill="#cfc293" stroke="#7f6e3e" stroke-width="1.1" vector-effect="non-scaling-stroke"/><path d="M -12,-5 l0.5,3 M -12,0.5 l0.5,2 M -9.5,-7 l0.3,4 M -9,-1 l0,3.5 M -6.5,-7.5 l0.2,4.5 M -6.3,-1 l0,3.5 M -3.5,-7.5 l0.2,4 M -3.3,-1 l0,3.8 M -0.5,-7 l0,4 M -0.3,-0.5 l0,4.5 M 2.5,-6.3 l-0.3,4 M 2.7,0 l-0.3,4.5 M 5.5,-5 l-0.7,4 M 5.2,1 l-0.7,4.5 M 8.5,-3 l-1,4 M 8,3 l-1,4 M 11,-0.5 l-1.2,3.5 M 10.5,4.5 l-1,3" stroke="#8a7a4a" stroke-width="0.7" fill="none" vector-effect="non-scaling-stroke"/></g>
</g>

<circle cx="556.5" cy="395.5" r="6" fill="#e4e0d4" opacity="0.9"/>
<g fill="none" stroke="#8d9b80" stroke-width="0.8" opacity="0.85"><path d="M 567,400 L 567.3,388 L 567,380"/><path d="M 567,388 C 562,383 556,380 548,378"/><path d="M 567,388 C 572,383 579,380 587,378"/><path d="M 567,384 C 564,377 560,371 554,366"/><path d="M 567,384 C 570,377 574,371 580,366"/><path d="M 567,382 C 566,375 566,368 566,361"/><path d="M 558,380 C 552,378 545,380 540,383"/><path d="M 576,380 C 583,378 590,379 595,383"/><path d="M 567,392 Q 574.6,393.4 585.3,393.4" stroke-width="0.5"/><path d="M 567,392 Q 574.9,393.8 585.9,395.4" stroke-width="0.5"/><path d="M 567,392 Q 576.1,394.6 588.8,398.4" stroke-width="0.5"/><path d="M 567,392 Q 572.8,394.5 581.0,398.2" stroke-width="0.5"/><path d="M 567,392 Q 571.9,394.9 578.8,399.6" stroke-width="0.5"/><path d="M 567,392 Q 570.9,395.3 576.3,401.1" stroke-width="0.5"/><path d="M 567,392 Q 568.7,394.8 571.1,399.0" stroke-width="0.5"/><path d="M 567,392 Q 567.8,395.4 568.8,401.6" stroke-width="0.5"/><path d="M 567,392 Q 566.2,395.6 565.0,402.5" stroke-width="0.5"/><path d="M 567,392 Q 564.3,395.8 560.5,403.2" stroke-width="0.5"/><path d="M 567,392 Q 564.5,394.5 560.9,397.9" stroke-width="0.5"/><path d="M 567,392 Q 562.8,394.6 557.0,398.5" stroke-width="0.5"/><path d="M 567,392 Q 562.8,394.1 557.0,396.4" stroke-width="0.5"/><path d="M 567,392 Q 558.5,394.5 546.6,398.0" stroke-width="0.5"/><path d="M 567,392 Q 558.4,393.9 546.3,395.7" stroke-width="0.5"/><path d="M 567,392 Q 561.8,393.2 554.6,393.0" stroke-width="0.5"/></g>
<path d="M 565.8,398 L 566.2,384 L 568.4,384 L 568.8,398 Z" fill="#8d9b80" opacity="0.9"/>
<g opacity="0.85"><circle cx="595.9" cy="388.2" r="0.88" fill="#cfb672"/><circle cx="576.0" cy="377.8" r="0.58" fill="#d6bd6c"/><circle cx="539.1" cy="385.6" r="0.56" fill="#d6bd6c"/><circle cx="564.8" cy="372.3" r="0.78" fill="#889d86"/><circle cx="575.4" cy="374.1" r="0.59" fill="#cfb672"/><circle cx="576.3" cy="371.3" r="1.00" fill="#d6bd6c"/><circle cx="587.4" cy="380.4" r="0.89" fill="#7f9689"/><circle cx="567.8" cy="359.9" r="0.89" fill="#d6bd6c"/><circle cx="594.5" cy="384.6" r="0.65" fill="#889d86"/><circle cx="571.0" cy="365.0" r="0.67" fill="#cfb672"/><circle cx="594.8" cy="381.9" r="0.61" fill="#889d86"/><circle cx="564.9" cy="373.7" r="0.80" fill="#cfb672"/><circle cx="563.8" cy="364.8" r="0.90" fill="#cfb672"/><circle cx="562.2" cy="370.6" r="0.74" fill="#97a88a"/><circle cx="549.8" cy="367.2" r="0.69" fill="#d6bd6c"/><circle cx="560.7" cy="384.8" r="0.57" fill="#889d86"/><circle cx="545.8" cy="372.4" r="0.90" fill="#889d86"/><circle cx="556.7" cy="368.0" r="0.58" fill="#889d86"/><circle cx="549.5" cy="378.3" r="0.82" fill="#889d86"/><circle cx="559.3" cy="372.7" r="0.77" fill="#d6bd6c"/><circle cx="546.2" cy="386.5" r="0.66" fill="#d6bd6c"/><circle cx="548.4" cy="381.4" r="0.64" fill="#d6bd6c"/><circle cx="594.0" cy="385.7" r="0.59" fill="#d6bd6c"/><circle cx="567.7" cy="366.7" r="0.87" fill="#cfb672"/><circle cx="552.4" cy="383.9" r="0.77" fill="#d6bd6c"/><circle cx="568.2" cy="387.1" r="0.65" fill="#889d86"/><circle cx="570.6" cy="384.8" r="0.65" fill="#7f9689"/><circle cx="591.9" cy="381.6" r="0.67" fill="#889d86"/><circle cx="563.7" cy="360.8" r="0.68" fill="#889d86"/><circle cx="545.3" cy="372.6" r="0.85" fill="#7f9689"/><circle cx="578.5" cy="376.7" r="0.82" fill="#889d86"/><circle cx="592.4" cy="373.4" r="0.87" fill="#7f9689"/><circle cx="575.2" cy="373.6" r="0.69" fill="#cfb672"/><circle cx="564.2" cy="370.1" r="0.96" fill="#889d86"/><circle cx="581.2" cy="380.3" r="0.71" fill="#7f9689"/><circle cx="578.1" cy="386.2" r="0.97" fill="#97a88a"/><circle cx="562.0" cy="369.0" r="0.86" fill="#cfb672"/><circle cx="564.5" cy="373.0" r="0.59" fill="#d6bd6c"/><circle cx="573.1" cy="373.5" r="0.98" fill="#889d86"/><circle cx="543.8" cy="382.6" r="0.96" fill="#cfb672"/><circle cx="555.1" cy="379.5" r="0.78" fill="#889d86"/><circle cx="582.2" cy="369.4" r="0.77" fill="#97a88a"/><circle cx="551.5" cy="371.2" r="0.64" fill="#7f9689"/><circle cx="562.9" cy="383.4" r="0.72" fill="#889d86"/><circle cx="572.0" cy="368.6" r="0.61" fill="#889d86"/><circle cx="540.8" cy="388.6" r="0.60" fill="#889d86"/><circle cx="565.3" cy="387.0" r="0.83" fill="#97a88a"/><circle cx="566.6" cy="368.5" r="0.75" fill="#d6bd6c"/><circle cx="579.5" cy="376.3" r="0.84" fill="#7f9689"/><circle cx="548.4" cy="382.3" r="0.66" fill="#7f9689"/><circle cx="574.8" cy="372.5" r="0.79" fill="#cfb672"/><circle cx="575.4" cy="370.1" r="0.86" fill="#889d86"/><circle cx="549.0" cy="373.4" r="0.87" fill="#889d86"/><circle cx="582.3" cy="375.2" r="0.63" fill="#889d86"/><circle cx="553.3" cy="369.5" r="0.98" fill="#cfb672"/><circle cx="587.9" cy="380.2" r="0.59" fill="#889d86"/><circle cx="593.0" cy="380.8" r="0.75" fill="#889d86"/><circle cx="548.8" cy="385.8" r="0.72" fill="#889d86"/><circle cx="571.1" cy="385.6" r="0.76" fill="#7f9689"/><circle cx="576.1" cy="365.2" r="0.94" fill="#cfb672"/><circle cx="584.9" cy="386.9" r="0.65" fill="#889d86"/><circle cx="591.0" cy="388.7" r="0.79" fill="#7f9689"/><circle cx="584.4" cy="368.7" r="0.94" fill="#cfb672"/><circle cx="557.9" cy="361.5" r="0.70" fill="#97a88a"/><circle cx="562.3" cy="367.3" r="0.65" fill="#889d86"/><circle cx="589.1" cy="372.0" r="0.63" fill="#889d86"/><circle cx="545.9" cy="374.6" r="0.78" fill="#cfb672"/><circle cx="577.7" cy="372.3" r="0.81" fill="#97a88a"/><circle cx="578.3" cy="381.9" r="0.79" fill="#97a88a"/><circle cx="554.4" cy="381.0" r="0.62" fill="#cfb672"/><circle cx="577.3" cy="387.9" r="0.64" fill="#d6bd6c"/><circle cx="588.0" cy="388.3" r="0.67" fill="#d6bd6c"/><circle cx="566.9" cy="371.4" r="0.78" fill="#889d86"/><circle cx="573.3" cy="359.8" r="0.78" fill="#889d86"/><circle cx="569.3" cy="371.5" r="0.67" fill="#97a88a"/><circle cx="565.4" cy="362.8" r="0.96" fill="#97a88a"/><circle cx="593.1" cy="386.8" r="0.69" fill="#d6bd6c"/><circle cx="548.5" cy="377.7" r="0.61" fill="#7f9689"/><circle cx="548.6" cy="365.9" r="0.68" fill="#cfb672"/><circle cx="580.4" cy="366.4" r="0.60" fill="#97a88a"/><circle cx="580.9" cy="362.7" r="0.83" fill="#d6bd6c"/><circle cx="580.1" cy="380.2" r="0.56" fill="#97a88a"/><circle cx="575.0" cy="384.0" r="0.64" fill="#d6bd6c"/><circle cx="574.9" cy="378.3" r="0.65" fill="#d6bd6c"/><circle cx="591.9" cy="378.0" r="0.96" fill="#7f9689"/><circle cx="556.0" cy="368.5" r="0.65" fill="#889d86"/><circle cx="596.9" cy="385.8" r="0.95" fill="#889d86"/><circle cx="560.3" cy="372.1" r="0.79" fill="#97a88a"/><circle cx="579.3" cy="365.1" r="0.86" fill="#cfb672"/><circle cx="577.9" cy="386.6" r="0.60" fill="#7f9689"/><circle cx="578.1" cy="364.7" r="0.77" fill="#889d86"/><circle cx="538.5" cy="382.0" r="0.78" fill="#d6bd6c"/><circle cx="571.1" cy="363.4" r="0.60" fill="#889d86"/><circle cx="554.0" cy="379.3" r="0.58" fill="#d6bd6c"/><circle cx="582.9" cy="368.9" r="0.74" fill="#97a88a"/><circle cx="558.3" cy="365.4" r="0.56" fill="#7f9689"/><circle cx="579.1" cy="384.5" r="0.73" fill="#889d86"/><circle cx="558.6" cy="370.2" r="0.82" fill="#889d86"/><circle cx="542.7" cy="383.0" r="0.95" fill="#7f9689"/><circle cx="585.1" cy="380.3" r="0.97" fill="#cfb672"/><circle cx="571.2" cy="364.8" r="0.99" fill="#d6bd6c"/><circle cx="585.3" cy="366.8" r="0.88" fill="#889d86"/><circle cx="583.7" cy="383.6" r="0.61" fill="#97a88a"/><circle cx="556.8" cy="375.3" r="0.90" fill="#7f9689"/><circle cx="582.9" cy="371.3" r="0.63" fill="#cfb672"/><circle cx="584.8" cy="368.1" r="0.55" fill="#889d86"/><circle cx="558.3" cy="378.3" r="0.57" fill="#d6bd6c"/><circle cx="553.4" cy="388.1" r="0.70" fill="#7f9689"/><circle cx="576.6" cy="376.2" r="0.58" fill="#d6bd6c"/><circle cx="567.9" cy="374.0" r="0.87" fill="#889d86"/><circle cx="582.7" cy="388.6" r="0.60" fill="#889d86"/><circle cx="563.6" cy="374.3" r="0.84" fill="#889d86"/><circle cx="553.5" cy="369.3" r="0.78" fill="#d6bd6c"/><circle cx="565.3" cy="364.1" r="0.79" fill="#97a88a"/><circle cx="572.8" cy="372.0" r="0.74" fill="#97a88a"/><circle cx="554.1" cy="378.8" r="0.97" fill="#d6bd6c"/><circle cx="583.3" cy="376.7" r="0.62" fill="#cfb672"/><circle cx="582.3" cy="370.8" r="0.89" fill="#7f9689"/><circle cx="540.0" cy="388.9" r="0.58" fill="#7f9689"/><circle cx="591.3" cy="372.0" r="0.66" fill="#97a88a"/><circle cx="542.9" cy="383.5" r="0.61" fill="#97a88a"/><circle cx="562.0" cy="362.6" r="0.71" fill="#889d86"/><circle cx="546.3" cy="370.0" r="0.85" fill="#889d86"/><circle cx="564.3" cy="366.9" r="0.86" fill="#d6bd6c"/><circle cx="558.8" cy="381.5" r="0.98" fill="#889d86"/><circle cx="581.1" cy="366.2" r="0.78" fill="#889d86"/><circle cx="555.5" cy="374.3" r="0.67" fill="#7f9689"/><circle cx="573.6" cy="380.9" r="0.83" fill="#889d86"/><circle cx="582.2" cy="364.7" r="0.78" fill="#889d86"/><circle cx="576.2" cy="364.9" r="0.57" fill="#cfb672"/><circle cx="569.5" cy="361.2" r="0.96" fill="#889d86"/><circle cx="558.2" cy="369.2" r="0.89" fill="#97a88a"/><circle cx="544.2" cy="383.5" r="0.93" fill="#d6bd6c"/><circle cx="583.1" cy="372.4" r="0.67" fill="#cfb672"/><circle cx="585.6" cy="370.2" r="0.93" fill="#cfb672"/><circle cx="572.8" cy="367.8" r="0.92" fill="#cfb672"/><circle cx="548.0" cy="378.8" r="0.59" fill="#d6bd6c"/><circle cx="542.0" cy="376.1" r="0.92" fill="#97a88a"/><circle cx="555.6" cy="386.5" r="0.59" fill="#d6bd6c"/><circle cx="555.2" cy="380.9" r="0.70" fill="#cfb672"/><circle cx="576.4" cy="368.9" r="0.70" fill="#889d86"/><circle cx="563.5" cy="377.0" r="0.96" fill="#cfb672"/><circle cx="556.1" cy="371.1" r="0.95" fill="#cfb672"/><circle cx="551.9" cy="369.9" r="0.56" fill="#7f9689"/><circle cx="577.6" cy="376.7" r="0.88" fill="#889d86"/><circle cx="559.1" cy="370.8" r="0.93" fill="#889d86"/><circle cx="570.8" cy="364.3" r="0.95" fill="#97a88a"/><circle cx="595.0" cy="378.7" r="0.58" fill="#97a88a"/><circle cx="541.9" cy="381.3" r="0.59" fill="#7f9689"/><circle cx="575.0" cy="363.4" r="0.92" fill="#cfb672"/><circle cx="564.5" cy="369.6" r="0.85" fill="#7f9689"/><circle cx="566.6" cy="375.2" r="0.58" fill="#cfb672"/><circle cx="574.1" cy="360.4" r="0.71" fill="#cfb672"/><circle cx="542.4" cy="373.1" r="0.84" fill="#d6bd6c"/><circle cx="568.4" cy="380.5" r="0.97" fill="#97a88a"/><circle cx="546.7" cy="378.2" r="0.63" fill="#cfb672"/><circle cx="549.3" cy="371.9" r="0.67" fill="#7f9689"/><circle cx="590.2" cy="373.3" r="0.60" fill="#cfb672"/><circle cx="550.0" cy="366.1" r="0.76" fill="#cfb672"/><circle cx="567.5" cy="372.4" r="0.73" fill="#7f9689"/><circle cx="591.6" cy="387.3" r="0.80" fill="#cfb672"/><circle cx="586.0" cy="373.5" r="0.77" fill="#7f9689"/><circle cx="561.2" cy="387.9" r="0.77" fill="#889d86"/><circle cx="593.9" cy="383.2" r="0.99" fill="#97a88a"/><circle cx="584.7" cy="382.4" r="0.85" fill="#889d86"/><circle cx="565.4" cy="370.2" r="0.87" fill="#889d86"/><circle cx="573.4" cy="363.8" r="0.90" fill="#889d86"/><circle cx="545.7" cy="386.5" r="0.61" fill="#d6bd6c"/><circle cx="581.5" cy="377.7" r="0.79" fill="#d6bd6c"/><circle cx="546.0" cy="382.3" r="0.64" fill="#889d86"/><circle cx="544.7" cy="369.6" r="0.87" fill="#d6bd6c"/><circle cx="542.8" cy="373.5" r="0.59" fill="#97a88a"/><circle cx="581.9" cy="375.4" r="0.69" fill="#d6bd6c"/><circle cx="584.4" cy="371.6" r="0.59" fill="#cfb672"/><circle cx="569.6" cy="374.9" r="0.98" fill="#889d86"/><circle cx="561.3" cy="375.8" r="0.85" fill="#97a88a"/><circle cx="545.4" cy="379.2" r="0.76" fill="#cfb672"/><circle cx="595.0" cy="384.1" r="0.75" fill="#cfb672"/><circle cx="588.8" cy="380.5" r="0.66" fill="#97a88a"/><circle cx="570.8" cy="372.9" r="0.94" fill="#889d86"/><circle cx="587.7" cy="380.7" r="0.62" fill="#d6bd6c"/><circle cx="574.7" cy="387.3" r="0.89" fill="#7f9689"/><circle cx="570.3" cy="361.6" r="0.64" fill="#889d86"/><circle cx="580.9" cy="369.0" r="0.80" fill="#7f9689"/><circle cx="580.4" cy="369.0" r="0.59" fill="#97a88a"/><circle cx="577.7" cy="380.4" r="0.64" fill="#889d86"/><circle cx="579.2" cy="362.0" r="0.62" fill="#889d86"/><circle cx="544.4" cy="371.3" r="0.70" fill="#889d86"/><circle cx="586.4" cy="387.0" r="0.84" fill="#889d86"/><circle cx="583.0" cy="383.8" r="0.77" fill="#97a88a"/><circle cx="592.3" cy="377.8" r="0.73" fill="#cfb672"/><circle cx="579.0" cy="388.7" r="0.85" fill="#889d86"/><circle cx="556.9" cy="369.3" r="0.75" fill="#cfb672"/><circle cx="570.4" cy="365.2" r="0.90" fill="#7f9689"/><circle cx="586.5" cy="377.5" r="0.66" fill="#889d86"/><circle cx="569.3" cy="368.0" r="0.71" fill="#889d86"/><circle cx="567.0" cy="363.3" r="0.64" fill="#cfb672"/><circle cx="593.0" cy="389.2" r="0.93" fill="#cfb672"/><circle cx="548.8" cy="387.6" r="0.85" fill="#cfb672"/><circle cx="565.7" cy="371.6" r="0.70" fill="#7f9689"/><circle cx="564.8" cy="362.8" r="0.61" fill="#cfb672"/><circle cx="591.2" cy="375.4" r="0.58" fill="#d6bd6c"/><circle cx="581.7" cy="386.1" r="0.82" fill="#7f9689"/><circle cx="544.4" cy="383.9" r="0.86" fill="#7f9689"/><circle cx="547.0" cy="377.1" r="0.75" fill="#889d86"/><circle cx="561.2" cy="382.7" r="0.61" fill="#cfb672"/><circle cx="582.4" cy="384.6" r="0.83" fill="#97a88a"/><circle cx="561.7" cy="360.0" r="0.72" fill="#d6bd6c"/><circle cx="571.2" cy="364.3" r="0.61" fill="#d6bd6c"/><circle cx="551.6" cy="387.2" r="0.84" fill="#889d86"/><circle cx="539.3" cy="379.3" r="0.73" fill="#889d86"/><circle cx="566.9" cy="362.1" r="0.74" fill="#7f9689"/><circle cx="574.4" cy="379.8" r="0.77" fill="#7f9689"/><circle cx="596.7" cy="384.3" r="0.73" fill="#cfb672"/><circle cx="563.0" cy="376.1" r="0.70" fill="#d6bd6c"/><circle cx="568.2" cy="371.7" r="0.69" fill="#889d86"/><circle cx="540.3" cy="380.9" r="0.88" fill="#97a88a"/><circle cx="572.6" cy="361.1" r="0.93" fill="#889d86"/><circle cx="551.5" cy="385.4" r="0.76" fill="#889d86"/><circle cx="543.3" cy="386.5" r="0.69" fill="#d6bd6c"/><circle cx="560.7" cy="366.1" r="1.00" fill="#889d86"/><circle cx="580.8" cy="385.4" r="0.94" fill="#7f9689"/><circle cx="581.8" cy="376.1" r="0.59" fill="#889d86"/><circle cx="551.6" cy="368.0" r="0.63" fill="#7f9689"/><circle cx="563.4" cy="372.6" r="0.73" fill="#d6bd6c"/><circle cx="558.4" cy="376.7" r="0.69" fill="#889d86"/><circle cx="564.3" cy="368.5" r="0.77" fill="#7f9689"/><circle cx="593.0" cy="388.6" r="0.95" fill="#97a88a"/><circle cx="549.2" cy="385.0" r="0.95" fill="#cfb672"/><circle cx="548.7" cy="384.3" r="0.95" fill="#7f9689"/><circle cx="578.9" cy="375.9" r="0.83" fill="#d6bd6c"/><circle cx="548.5" cy="385.6" r="0.84" fill="#889d86"/><circle cx="555.4" cy="383.7" r="0.94" fill="#7f9689"/><circle cx="579.8" cy="363.1" r="0.98" fill="#cfb672"/><circle cx="583.7" cy="371.6" r="0.65" fill="#889d86"/><circle cx="555.4" cy="380.5" r="0.67" fill="#889d86"/><circle cx="580.2" cy="374.2" r="0.91" fill="#7f9689"/><circle cx="559.4" cy="379.0" r="0.78" fill="#d6bd6c"/><circle cx="595.6" cy="386.1" r="0.85" fill="#889d86"/><circle cx="553.6" cy="378.4" r="0.76" fill="#889d86"/><circle cx="541.6" cy="386.7" r="0.79" fill="#889d86"/><circle cx="539.7" cy="377.1" r="0.79" fill="#7f9689"/><circle cx="562.4" cy="376.2" r="0.68" fill="#889d86"/><circle cx="582.3" cy="366.4" r="0.88" fill="#7f9689"/><circle cx="538.7" cy="382.9" r="0.99" fill="#889d86"/><circle cx="582.0" cy="370.6" r="0.58" fill="#97a88a"/><circle cx="540.8" cy="382.5" r="0.69" fill="#7f9689"/><circle cx="566.0" cy="360.0" r="0.78" fill="#7f9689"/><circle cx="587.7" cy="379.7" r="0.88" fill="#d6bd6c"/><circle cx="568.9" cy="377.0" r="0.82" fill="#889d86"/><circle cx="551.1" cy="372.3" r="0.90" fill="#7f9689"/><circle cx="584.5" cy="366.1" r="0.79" fill="#97a88a"/><circle cx="588.2" cy="377.2" r="0.57" fill="#7f9689"/><circle cx="566.8" cy="372.1" r="0.88" fill="#97a88a"/><circle cx="575.4" cy="376.5" r="0.66" fill="#cfb672"/><circle cx="545.8" cy="368.4" r="0.86" fill="#889d86"/><circle cx="586.2" cy="381.3" r="0.89" fill="#7f9689"/><circle cx="559.7" cy="366.5" r="0.86" fill="#97a88a"/><circle cx="586.9" cy="382.8" r="0.69" fill="#889d86"/><circle cx="565.0" cy="380.1" r="0.61" fill="#889d86"/><circle cx="582.3" cy="377.2" r="0.62" fill="#889d86"/><circle cx="551.4" cy="385.9" r="0.59" fill="#889d86"/><circle cx="570.4" cy="373.3" r="0.99" fill="#889d86"/><circle cx="577.8" cy="380.7" r="0.83" fill="#cfb672"/><circle cx="554.7" cy="362.6" r="0.74" fill="#889d86"/><circle cx="555.5" cy="387.6" r="0.65" fill="#d6bd6c"/><circle cx="546.6" cy="376.7" r="0.88" fill="#889d86"/><circle cx="571.0" cy="386.6" r="0.76" fill="#889d86"/><circle cx="583.9" cy="365.5" r="0.66" fill="#7f9689"/><circle cx="584.6" cy="383.3" r="0.64" fill="#97a88a"/><circle cx="549.9" cy="373.1" r="0.76" fill="#7f9689"/><circle cx="593.9" cy="377.8" r="0.63" fill="#d6bd6c"/><circle cx="552.7" cy="370.9" r="0.87" fill="#cfb672"/><circle cx="553.1" cy="369.9" r="0.88" fill="#889d86"/><circle cx="551.5" cy="384.4" r="0.56" fill="#889d86"/><circle cx="556.3" cy="370.6" r="0.93" fill="#889d86"/><circle cx="559.9" cy="366.7" r="0.85" fill="#d6bd6c"/><circle cx="555.1" cy="377.4" r="0.57" fill="#97a88a"/><circle cx="546.1" cy="377.0" r="0.64" fill="#889d86"/><circle cx="561.6" cy="373.5" r="0.61" fill="#cfb672"/><circle cx="579.4" cy="366.9" r="0.75" fill="#cfb672"/><circle cx="559.6" cy="385.6" r="0.87" fill="#d6bd6c"/><circle cx="561.3" cy="370.7" r="0.65" fill="#7f9689"/><circle cx="554.5" cy="369.4" r="0.61" fill="#889d86"/><circle cx="587.9" cy="381.6" r="0.80" fill="#97a88a"/><circle cx="585.5" cy="388.5" r="0.85" fill="#7f9689"/><circle cx="541.0" cy="384.8" r="0.86" fill="#d6bd6c"/><circle cx="577.0" cy="387.9" r="0.66" fill="#7f9689"/><circle cx="575.0" cy="361.7" r="0.60" fill="#97a88a"/><circle cx="566.6" cy="373.8" r="0.68" fill="#7f9689"/><circle cx="579.2" cy="365.7" r="0.64" fill="#97a88a"/><circle cx="583.1" cy="369.6" r="0.66" fill="#cfb672"/><circle cx="562.3" cy="363.6" r="0.67" fill="#d6bd6c"/><circle cx="588.2" cy="368.3" r="0.96" fill="#889d86"/><circle cx="544.2" cy="386.5" r="0.67" fill="#97a88a"/><circle cx="580.2" cy="385.8" r="0.56" fill="#889d86"/><circle cx="552.7" cy="379.2" r="0.84" fill="#889d86"/><circle cx="560.1" cy="369.3" r="0.56" fill="#7f9689"/><circle cx="579.4" cy="365.5" r="0.83" fill="#889d86"/><circle cx="574.2" cy="371.4" r="0.58" fill="#97a88a"/><circle cx="541.1" cy="373.0" r="0.72" fill="#97a88a"/><circle cx="545.2" cy="374.3" r="0.77" fill="#7f9689"/><circle cx="565.4" cy="359.6" r="0.64" fill="#d6bd6c"/><circle cx="550.7" cy="379.6" r="0.78" fill="#889d86"/><circle cx="592.6" cy="388.6" r="0.66" fill="#889d86"/><circle cx="574.5" cy="376.0" r="0.99" fill="#cfb672"/><circle cx="557.0" cy="369.5" r="0.69" fill="#889d86"/><circle cx="580.0" cy="380.0" r="0.62" fill="#cfb672"/><circle cx="557.0" cy="379.8" r="0.68" fill="#d6bd6c"/><circle cx="561.9" cy="370.1" r="0.79" fill="#cfb672"/><circle cx="551.2" cy="366.5" r="0.87" fill="#7f9689"/><circle cx="592.0" cy="381.3" r="1.00" fill="#889d86"/><circle cx="586.1" cy="385.8" r="0.60" fill="#7f9689"/><circle cx="546.8" cy="385.2" r="0.57" fill="#97a88a"/><circle cx="552.2" cy="374.3" r="0.73" fill="#cfb672"/><circle cx="580.0" cy="366.6" r="0.86" fill="#cfb672"/><circle cx="548.0" cy="384.9" r="0.93" fill="#889d86"/><circle cx="586.7" cy="376.2" r="0.84" fill="#97a88a"/><circle cx="544.5" cy="381.4" r="0.91" fill="#7f9689"/><circle cx="544.5" cy="370.4" r="0.68" fill="#cfb672"/><circle cx="578.6" cy="382.9" r="0.67" fill="#889d86"/><circle cx="553.3" cy="366.6" r="0.73" fill="#cfb672"/><circle cx="593.0" cy="388.9" r="0.62" fill="#889d86"/><circle cx="596.8" cy="385.3" r="0.68" fill="#889d86"/><circle cx="580.9" cy="389.0" r="0.73" fill="#889d86"/><circle cx="591.3" cy="384.2" r="0.63" fill="#97a88a"/><circle cx="589.2" cy="378.6" r="0.73" fill="#889d86"/><circle cx="574.1" cy="382.1" r="0.85" fill="#97a88a"/><circle cx="550.0" cy="367.5" r="0.75" fill="#889d86"/><circle cx="587.0" cy="375.8" r="0.95" fill="#7f9689"/></g>
<text x="512.6" y="420.9" font-size="8.7" font-weight="normal" fill="#666a76" fill-opacity="0.85" stroke="#666a76" stroke-opacity="0.6" stroke-width="0.3" textLength="107.8" lengthAdjust="spacingAndGlyphs">PHARMACOLOGY</text>
<text x="544.9" y="428.6" font-size="5.6" fill="#85837a" fill-opacity="0.9" textLength="43.6" lengthAdjust="spacing">MENTOR</text>

<g fill="none" stroke="#464648" stroke-width="2" stroke-linejoin="miter">
 <polyline points="275.2,200.8 340.6,200.8 482.5,292.6"/>
 <polyline points="584.7,270.8 663.9,213.4 718.8,213.4"/>
 <polyline points="582.3,499.5 663.8,555.6 718.8,555.6"/>
 <polyline points="290.6,603.9 353.9,603.9 452.6,512.6"/>
</g>
<g fill="#222">
 <circle cx="482.5" cy="292.6" r="3"/>
 <circle cx="584.7" cy="270.8" r="3"/>
 <circle cx="582.3" cy="499.5" r="3"/>
 <circle cx="452.6" cy="512.6" r="3"/>
</g>

<text x="227.8" y="54.8" font-size="38.2" font-weight="bold" fill="#000" textLength="537.3" lengthAdjust="spacingAndGlyphs" stroke="#000" stroke-width="0.45">Target sites for  Antifungal drugs</text>
<text x="36.9" y="205.7" font-size="21.2" font-weight="bold" fill="#000" textLength="182.2" lengthAdjust="spacingAndGlyphs" stroke="#000" stroke-width="0.45">Inhibition of nucleic</text>
<text x="37.9" y="228.5" font-size="21.2" font-weight="bold" fill="#000" textLength="130.6" lengthAdjust="spacingAndGlyphs" stroke="#000" stroke-width="0.45">acid synthesis</text>
<text x="49.5" y="251.5" font-size="21.0" font-weight="normal" fill="#000" textLength="103.1" lengthAdjust="spacingAndGlyphs" stroke="#000" stroke-width="0.3">Flucytosine</text>
<text x="728.9" y="218.8" font-size="21.2" font-weight="bold" fill="#000" textLength="199.1" lengthAdjust="spacingAndGlyphs" stroke="#000" stroke-width="0.45">Disruption of cell wall</text>
<text x="741.0" y="241.8" font-size="21.0" font-weight="normal" fill="#000" textLength="175.6" lengthAdjust="spacingAndGlyphs" stroke="#000" stroke-width="0.3">Inhibitors of glucan</text>
<text x="729.9" y="264.6" font-size="21.0" font-weight="normal" fill="#000" textLength="228.7" lengthAdjust="spacingAndGlyphs" stroke="#000" stroke-width="0.3">synthesis- Echinocandins</text>
<text x="728.7" y="562.6" font-size="21.2" font-weight="bold" fill="#000" textLength="261.0" lengthAdjust="spacingAndGlyphs" stroke="#000" stroke-width="0.45">Disruption of cell membrane</text>
<text x="741.1" y="586.5" font-size="21.0" font-weight="normal" fill="#000" textLength="205.9" lengthAdjust="spacingAndGlyphs" stroke="#000" stroke-width="0.3">Inhibitors of ergosterol</text>
<text x="729.6" y="609.4" font-size="21.0" font-weight="normal" fill="#000" textLength="271.1" lengthAdjust="spacingAndGlyphs" stroke="#000" stroke-width="0.3">synthesis- Azoles/Allylamines</text>
<text x="740.8" y="632.2" font-size="21.0" font-weight="normal" fill="#000" textLength="235.8" lengthAdjust="spacingAndGlyphs" stroke="#000" stroke-width="0.3">Direct membrane damage</text>
<text x="729.2" y="655.4" font-size="21.0" font-weight="normal" fill="#000" textLength="82.5" lengthAdjust="spacingAndGlyphs" stroke="#000" stroke-width="0.3">Polyenes</text>
<text x="37.3" y="609.5" font-size="21.2" font-weight="bold" fill="#000" textLength="244.6" lengthAdjust="spacingAndGlyphs" stroke="#000" stroke-width="0.45">Disruption of microtubules</text>
<text x="36.8" y="632.5" font-size="21.2" font-weight="bold" fill="#000" textLength="222.4" lengthAdjust="spacingAndGlyphs" stroke="#000" stroke-width="0.45">and inhibition of mitosis</text>
<text x="49.0" y="655.2" font-size="21.0" font-weight="normal" fill="#000" textLength="108.3" lengthAdjust="spacingAndGlyphs" stroke="#000" stroke-width="0.3">Griseofulvin</text>
<text x="459.6" y="582.3" font-size="21.0" font-weight="normal" fill="#000" textLength="98.1" lengthAdjust="spacingAndGlyphs" stroke="#000" stroke-width="0.3">Fungal cell</text>
<circle cx="40.6" cy="244.2" r="2.5" fill="#000"/>
<circle cx="732.6" cy="234.6" r="2.5" fill="#000"/>
<circle cx="732.6" cy="579.3" r="2.5" fill="#000"/>
<circle cx="732.6" cy="625.0" r="2.5" fill="#000"/>
<circle cx="41.0" cy="648.0" r="2.5" fill="#000"/>
<g transform="translate(0 0)">
<rect x="730.2" y="89.9" width="237" height="62" fill="#f4f3dc"/>
<path d="M 735,95.7 C 737.8,96.6 746.0,99.4 752,101 C 758.0,102.6 765.0,104.2 770.8,105.4 C 776.6,106.7 781.5,108.1 787,108.5 C 792.5,108.9 798.3,108.8 803.8,108 C 809.3,107.2 814.5,105.7 820,104 C 825.5,102.3 834.0,98.8 836.8,97.8" fill="none" stroke="#bdb39d" stroke-width="1.4" opacity="0.7"/>
<path d="M 854.6,100.3 C 858.2,100.0 868.8,98.9 876,98.5 C 883.2,98.1 891.0,97.6 897.8,97.8 C 904.6,98.0 910.7,98.7 917,99.5 C 923.3,100.3 930.0,101.7 935.8,102.9 C 941.6,104.2 947.1,105.3 952,107 C 956.9,108.7 962.8,112.0 965,113" fill="none" stroke="#bdb39d" stroke-width="1.4" opacity="0.7"/>
<path d="M 730.2,118 C 733.5,117.7 743.2,116.4 750,116 C 756.8,115.6 764.6,115.3 770.8,115.5 C 777.0,115.7 781.5,116.6 787,117 C 792.5,117.4 798.5,118.3 803.8,118 C 809.1,117.7 813.9,116.2 819,115 C 824.1,113.8 828.6,111.8 834.3,110.5 C 840.0,109.2 846.6,107.8 853,107 C 859.4,106.2 865.4,105.9 872.4,105.4 C 879.4,104.9 887.4,104.4 895,104 C 902.6,103.6 911.0,102.7 918,102.9 C 925.0,103.1 930.7,104.2 937,105 C 943.3,105.8 952.8,107.5 956,108" fill="none" stroke="#bdb39d" stroke-width="1.4" opacity="0.7"/>
<path d="M 735.2,139.7 C 737.7,139.4 744.9,138.6 750,138 C 755.1,137.4 760.5,137.1 765.7,135.9 C 770.9,134.7 775.9,132.5 781,131 C 786.1,129.5 790.5,128.1 796.2,127 C 801.9,125.9 808.6,125.1 815,124.5 C 821.4,123.9 828.0,123.5 834.3,123.2 C 840.6,122.9 846.6,122.7 853,122.5 C 859.4,122.3 864.9,122.0 872.4,121.9 C 879.9,121.8 889.5,121.8 898,122 C 906.5,122.2 915.4,122.8 923.2,123.2 C 931.0,123.6 938.0,124.1 945,124.5 C 952.0,124.9 961.7,125.5 965,125.7" fill="none" stroke="#bdb39d" stroke-width="1.4" opacity="0.7"/>
<path d="M 783.5,124.4 C 787.8,124.8 800.5,125.9 809,127 C 817.5,128.1 827.8,129.5 834.3,130.8 C 840.8,132.1 843.4,133.5 848,135 C 852.6,136.5 857.9,139.2 862.2,139.7 C 866.5,140.2 870.2,138.8 874,138 C 877.8,137.2 880.0,136.1 885,134.6 C 890.0,133.1 897.6,130.5 904,129 C 910.4,127.5 920.0,126.2 923.2,125.7" fill="none" stroke="#bdb39d" stroke-width="1.4" opacity="0.7"/>
<path d="M 821.6,113 C 824.7,113.4 833.6,114.7 840,115.5 C 846.4,116.3 853.4,117.8 859.7,118 C 866.0,118.2 871.6,117.4 878,117 C 884.4,116.6 891.3,116.2 897.8,115.5 C 904.3,114.8 910.7,113.8 917,113 C 923.3,112.2 930.3,110.9 935.8,110.5 C 941.3,110.1 945.1,110.3 950,110.5 C 954.9,110.7 962.5,111.5 965,111.7" fill="none" stroke="#bdb39d" stroke-width="1.4" opacity="0.7"/>
<path d="M 847,130.8 C 850.2,131.5 859.7,133.7 866,135 C 872.3,136.3 879.7,138.4 885,138.4 C 890.3,138.4 893.8,136.3 898,135 C 902.2,133.7 905.2,131.8 910.5,130.8 C 915.8,129.8 923.7,129.4 930,129 C 936.3,128.6 945.4,128.3 948.5,128.2" fill="none" stroke="#bdb39d" stroke-width="1.4" opacity="0.7"/>
<path d="M 745.6,116.1 C 748.5,116.5 757.4,118.7 763.2,118.5 C 769.1,118.3 775.6,115.9 780.7,115 C 785.8,114.1 788.7,114.4 793.6,113.2 C 798.5,112.0 804.3,110.0 810,108 C 815.7,106.0 822.9,102.9 827.6,100.9 C 832.3,98.9 836.4,97.0 838.2,96.2" fill="none" stroke="#bdb39d" stroke-width="1.4" opacity="0.7"/>
<path d="M 763.2,129.6 C 766.1,129.7 774.9,129.5 780.7,130.2 C 786.6,130.9 792.4,133.9 798.3,133.7 C 804.2,133.5 810.0,130.8 815.9,129 C 821.8,127.2 830.6,124.2 833.5,123.2" fill="none" stroke="#bdb39d" stroke-width="1.4" opacity="0.7"/>
<path d="M 733.6999999999999,156 L 732.1999999999999,171 M 735.1,156 L 736.6,171 M 732.1999999999999,173.5 L 733.6999999999999,186 M 736.6,173.5 L 735.1,186 M 741.5799999999999,156 L 740.0799999999999,171 M 742.98,156 L 744.48,171 M 740.0799999999999,173.5 L 741.5799999999999,186 M 744.48,173.5 L 742.98,186 M 749.4599999999999,156 L 747.9599999999999,171 M 750.86,156 L 752.36,171 M 747.9599999999999,173.5 L 749.4599999999999,186 M 752.36,173.5 L 750.86,186 M 757.3399999999999,156 L 755.8399999999999,171 M 758.74,156 L 760.24,171 M 755.8399999999999,173.5 L 757.3399999999999,186 M 760.24,173.5 L 758.74,186 M 765.2199999999999,156 L 763.7199999999999,171 M 766.62,156 L 768.12,171 M 763.7199999999999,173.5 L 765.2199999999999,186 M 768.12,173.5 L 766.62,186 M 773.0999999999999,156 L 771.5999999999999,171 M 774.5,156 L 776.0,171 M 771.5999999999999,173.5 L 773.0999999999999,186 M 776.0,173.5 L 774.5,186 M 780.9799999999999,156 L 779.4799999999999,171 M 782.38,156 L 783.88,171 M 779.4799999999999,173.5 L 780.9799999999999,186 M 783.88,173.5 L 782.38,186 M 788.8599999999999,156 L 787.3599999999999,171 M 790.26,156 L 791.76,171 M 787.3599999999999,173.5 L 788.8599999999999,186 M 791.76,173.5 L 790.26,186 M 796.7399999999999,156 L 795.2399999999999,171 M 798.14,156 L 799.64,171 M 795.2399999999999,173.5 L 796.7399999999999,186 M 799.64,173.5 L 798.14,186 M 804.6199999999999,156 L 803.1199999999999,171 M 806.02,156 L 807.52,171 M 803.1199999999999,173.5 L 804.6199999999999,186 M 807.52,173.5 L 806.02,186 M 812.4999999999999,156 L 810.9999999999999,171 M 813.9,156 L 815.4,171 M 810.9999999999999,173.5 L 812.4999999999999,186 M 815.4,173.5 L 813.9,186 M 820.3799999999999,156 L 818.8799999999999,171 M 821.78,156 L 823.28,171 M 818.8799999999999,173.5 L 820.3799999999999,186 M 823.28,173.5 L 821.78,186 M 828.26,156 L 826.76,171 M 829.6600000000001,156 L 831.1600000000001,171 M 826.76,173.5 L 828.26,186 M 831.1600000000001,173.5 L 829.6600000000001,186 M 836.1399999999999,156 L 834.6399999999999,171 M 837.54,156 L 839.04,171 M 834.6399999999999,173.5 L 836.1399999999999,186 M 839.04,173.5 L 837.54,186 M 844.02,156 L 842.52,171 M 845.4200000000001,156 L 846.9200000000001,171 M 842.52,173.5 L 844.02,186 M 846.9200000000001,173.5 L 845.4200000000001,186 M 851.9,156 L 850.4,171 M 853.3000000000001,156 L 854.8000000000001,171 M 850.4,173.5 L 851.9,186 M 854.8000000000001,173.5 L 853.3000000000001,186 M 859.78,156 L 858.28,171 M 861.1800000000001,156 L 862.6800000000001,171 M 858.28,173.5 L 859.78,186 M 862.6800000000001,173.5 L 861.1800000000001,186 M 867.66,156 L 866.16,171 M 869.0600000000001,156 L 870.5600000000001,171 M 866.16,173.5 L 867.66,186 M 870.5600000000001,173.5 L 869.0600000000001,186 M 875.54,156 L 874.04,171 M 876.94,156 L 878.44,171 M 874.04,173.5 L 875.54,186 M 878.44,173.5 L 876.94,186 M 883.42,156 L 881.92,171 M 884.82,156 L 886.32,171 M 881.92,173.5 L 883.42,186 M 886.32,173.5 L 884.82,186 M 891.3,156 L 889.8,171 M 892.7,156 L 894.2,171 M 889.8,173.5 L 891.3,186 M 894.2,173.5 L 892.7,186 M 899.18,156 L 897.68,171 M 900.58,156 L 902.08,171 M 897.68,173.5 L 899.18,186 M 902.08,173.5 L 900.58,186 M 907.06,156 L 905.56,171 M 908.46,156 L 909.96,171 M 905.56,173.5 L 907.06,186 M 909.96,173.5 L 908.46,186 M 914.9399999999999,156 L 913.4399999999999,171 M 916.34,156 L 917.84,171 M 913.4399999999999,173.5 L 914.9399999999999,186 M 917.84,173.5 L 916.34,186 M 922.8199999999999,156 L 921.3199999999999,171 M 924.22,156 L 925.72,171 M 921.3199999999999,173.5 L 922.8199999999999,186 M 925.72,173.5 L 924.22,186 M 930.6999999999999,156 L 929.1999999999999,171 M 932.1,156 L 933.6,171 M 929.1999999999999,173.5 L 930.6999999999999,186 M 933.6,173.5 L 932.1,186 M 938.5799999999999,156 L 937.0799999999999,171 M 939.98,156 L 941.48,171 M 937.0799999999999,173.5 L 938.5799999999999,186 M 941.48,173.5 L 939.98,186 M 946.4599999999999,156 L 944.9599999999999,171 M 947.86,156 L 949.36,171 M 944.9599999999999,173.5 L 946.4599999999999,186 M 949.36,173.5 L 947.86,186 M 954.3399999999999,156 L 952.8399999999999,171 M 955.74,156 L 957.24,171 M 952.8399999999999,173.5 L 954.3399999999999,186 M 957.24,173.5 L 955.74,186 M 962.2199999999999,156 L 960.7199999999999,171 M 963.62,156 L 965.12,171 M 960.7199999999999,173.5 L 962.2199999999999,186 M 965.12,173.5 L 963.62,186" stroke="#d7cfb8" stroke-width="1.2" fill="none"/>
<g fill="#a59b85"><circle cx="734.40" cy="153.5" r="3.5"/><circle cx="734.40" cy="189.3" r="3.5"/><circle cx="742.28" cy="153.5" r="3.5"/><circle cx="742.28" cy="189.3" r="3.5"/><circle cx="750.16" cy="153.5" r="3.5"/><circle cx="750.16" cy="189.3" r="3.5"/><circle cx="758.04" cy="153.5" r="3.5"/><circle cx="758.04" cy="189.3" r="3.5"/><circle cx="765.92" cy="153.5" r="3.5"/><circle cx="765.92" cy="189.3" r="3.5"/><circle cx="773.80" cy="153.5" r="3.5"/><circle cx="773.80" cy="189.3" r="3.5"/><circle cx="781.68" cy="153.5" r="3.5"/><circle cx="781.68" cy="189.3" r="3.5"/><circle cx="789.56" cy="153.5" r="3.5"/><circle cx="789.56" cy="189.3" r="3.5"/><circle cx="797.44" cy="153.5" r="3.5"/><circle cx="797.44" cy="189.3" r="3.5"/><circle cx="805.32" cy="153.5" r="3.5"/><circle cx="805.32" cy="189.3" r="3.5"/><circle cx="813.20" cy="153.5" r="3.5"/><circle cx="813.20" cy="189.3" r="3.5"/><circle cx="821.08" cy="153.5" r="3.5"/><circle cx="821.08" cy="189.3" r="3.5"/><circle cx="828.96" cy="153.5" r="3.5"/><circle cx="828.96" cy="189.3" r="3.5"/><circle cx="836.84" cy="153.5" r="3.5"/><circle cx="836.84" cy="189.3" r="3.5"/><circle cx="844.72" cy="153.5" r="3.5"/><circle cx="844.72" cy="189.3" r="3.5"/><circle cx="852.60" cy="153.5" r="3.5"/><circle cx="852.60" cy="189.3" r="3.5"/><circle cx="860.48" cy="153.5" r="3.5"/><circle cx="860.48" cy="189.3" r="3.5"/><circle cx="868.36" cy="153.5" r="3.5"/><circle cx="868.36" cy="189.3" r="3.5"/><circle cx="876.24" cy="153.5" r="3.5"/><circle cx="876.24" cy="189.3" r="3.5"/><circle cx="884.12" cy="153.5" r="3.5"/><circle cx="884.12" cy="189.3" r="3.5"/><circle cx="892.00" cy="153.5" r="3.5"/><circle cx="892.00" cy="189.3" r="3.5"/><circle cx="899.88" cy="153.5" r="3.5"/><circle cx="899.88" cy="189.3" r="3.5"/><circle cx="907.76" cy="153.5" r="3.5"/><circle cx="907.76" cy="189.3" r="3.5"/><circle cx="915.64" cy="153.5" r="3.5"/><circle cx="915.64" cy="189.3" r="3.5"/><circle cx="923.52" cy="153.5" r="3.5"/><circle cx="923.52" cy="189.3" r="3.5"/><circle cx="931.40" cy="153.5" r="3.5"/><circle cx="931.40" cy="189.3" r="3.5"/><circle cx="939.28" cy="153.5" r="3.5"/><circle cx="939.28" cy="189.3" r="3.5"/><circle cx="947.16" cy="153.5" r="3.5"/><circle cx="947.16" cy="189.3" r="3.5"/><circle cx="955.04" cy="153.5" r="3.5"/><circle cx="955.04" cy="189.3" r="3.5"/><circle cx="962.92" cy="153.5" r="3.5"/><circle cx="962.92" cy="189.3" r="3.5"/></g>
<g transform="translate(0 0)">
<path d="M 761.4,131.3 L 754.5,123.5 M 754.5,123.5 L 754.5,115.0 M 754.5,115.0 L 754.5,106.1 M 761.4,131.3 L 768.4,123.2 M 768.4,123.2 L 761.8,115.0 M 768.4,123.2 L 775.2,115.0 M 775.2,115.0 L 775.2,106.1 M 761.4,131 L 761.4,152" stroke="#555" stroke-width="0.9" fill="none"/>
<rect x="759.0" y="136" width="4.8" height="4.8" fill="#3e7cd4"/>
<rect x="759.0" y="144" width="4.8" height="4.8" fill="#3e7cd4"/>
<circle cx="754.5" cy="123.5" r="2.2" fill="#74c044" stroke="#4f8f2c" stroke-width="0.5"/>
<circle cx="754.5" cy="115.0" r="2.2" fill="#74c044" stroke="#4f8f2c" stroke-width="0.5"/>
<circle cx="754.5" cy="106.1" r="2.2" fill="#74c044" stroke="#4f8f2c" stroke-width="0.5"/>
<circle cx="761.8" cy="115.0" r="2.2" fill="#74c044" stroke="#4f8f2c" stroke-width="0.5"/>
<circle cx="768.4" cy="123.2" r="2.2" fill="#74c044" stroke="#4f8f2c" stroke-width="0.5"/>
<circle cx="775.2" cy="115.0" r="2.2" fill="#74c044" stroke="#4f8f2c" stroke-width="0.5"/>
<circle cx="775.2" cy="106.1" r="2.2" fill="#74c044" stroke="#4f8f2c" stroke-width="0.5"/>
<circle cx="761.4" cy="131.3" r="2.2" fill="#74c044" stroke="#4f8f2c" stroke-width="0.5"/>
<path d="M 810.1,131.3 L 817.0,123.5 M 817.0,123.5 L 817.0,115.0 M 817.0,115.0 L 817.0,106.1 M 810.1,131.3 L 803.1,123.2 M 803.1,123.2 L 809.7,115.0 M 803.1,123.2 L 796.3,115.0 M 796.3,115.0 L 796.3,106.1 M 810.1,131 L 810.1,152" stroke="#555" stroke-width="0.9" fill="none"/>
<rect x="807.7" y="136" width="4.8" height="4.8" fill="#3e7cd4"/>
<rect x="807.7" y="144" width="4.8" height="4.8" fill="#3e7cd4"/>
<circle cx="817.0" cy="123.5" r="2.2" fill="#74c044" stroke="#4f8f2c" stroke-width="0.5"/>
<circle cx="817.0" cy="115.0" r="2.2" fill="#74c044" stroke="#4f8f2c" stroke-width="0.5"/>
<circle cx="817.0" cy="106.1" r="2.2" fill="#74c044" stroke="#4f8f2c" stroke-width="0.5"/>
<circle cx="809.7" cy="115.0" r="2.2" fill="#74c044" stroke="#4f8f2c" stroke-width="0.5"/>
<circle cx="803.1" cy="123.2" r="2.2" fill="#74c044" stroke="#4f8f2c" stroke-width="0.5"/>
<circle cx="796.3" cy="115.0" r="2.2" fill="#74c044" stroke="#4f8f2c" stroke-width="0.5"/>
<circle cx="796.3" cy="106.1" r="2.2" fill="#74c044" stroke="#4f8f2c" stroke-width="0.5"/>
<circle cx="810.1" cy="131.3" r="2.2" fill="#74c044" stroke="#4f8f2c" stroke-width="0.5"/>
<path d="M 844.9,131.3 L 838.0,123.5 M 838.0,123.5 L 838.0,115.0 M 838.0,115.0 L 838.0,106.1 M 844.9,131.3 L 851.9,123.2 M 851.9,123.2 L 845.3,115.0 M 851.9,123.2 L 858.7,115.0 M 858.7,115.0 L 858.7,106.1 M 844.9,131 L 844.9,152" stroke="#555" stroke-width="0.9" fill="none"/>
<rect x="842.5" y="136" width="4.8" height="4.8" fill="#3e7cd4"/>
<rect x="842.5" y="144" width="4.8" height="4.8" fill="#3e7cd4"/>
<circle cx="838.0" cy="123.5" r="2.2" fill="#74c044" stroke="#4f8f2c" stroke-width="0.5"/>
<circle cx="838.0" cy="115.0" r="2.2" fill="#74c044" stroke="#4f8f2c" stroke-width="0.5"/>
<circle cx="838.0" cy="106.1" r="2.2" fill="#74c044" stroke="#4f8f2c" stroke-width="0.5"/>
<circle cx="845.3" cy="115.0" r="2.2" fill="#74c044" stroke="#4f8f2c" stroke-width="0.5"/>
<circle cx="851.9" cy="123.2" r="2.2" fill="#74c044" stroke="#4f8f2c" stroke-width="0.5"/>
<circle cx="858.7" cy="115.0" r="2.2" fill="#74c044" stroke="#4f8f2c" stroke-width="0.5"/>
<circle cx="858.7" cy="106.1" r="2.2" fill="#74c044" stroke="#4f8f2c" stroke-width="0.5"/>
<circle cx="844.9" cy="131.3" r="2.2" fill="#74c044" stroke="#4f8f2c" stroke-width="0.5"/>
<path d="M 894.0,131.3 L 900.9,123.5 M 900.9,123.5 L 900.9,115.0 M 900.9,115.0 L 900.9,106.1 M 894.0,131.3 L 887.0,123.2 M 887.0,123.2 L 893.6,115.0 M 887.0,123.2 L 880.2,115.0 M 880.2,115.0 L 880.2,106.1 M 894.0,131 L 894.0,152" stroke="#555" stroke-width="0.9" fill="none"/>
<rect x="891.6" y="136" width="4.8" height="4.8" fill="#3e7cd4"/>
<rect x="891.6" y="144" width="4.8" height="4.8" fill="#3e7cd4"/>
<circle cx="900.9" cy="123.5" r="2.2" fill="#74c044" stroke="#4f8f2c" stroke-width="0.5"/>
<circle cx="900.9" cy="115.0" r="2.2" fill="#74c044" stroke="#4f8f2c" stroke-width="0.5"/>
<circle cx="900.9" cy="106.1" r="2.2" fill="#74c044" stroke="#4f8f2c" stroke-width="0.5"/>
<circle cx="893.6" cy="115.0" r="2.2" fill="#74c044" stroke="#4f8f2c" stroke-width="0.5"/>
<circle cx="887.0" cy="123.2" r="2.2" fill="#74c044" stroke="#4f8f2c" stroke-width="0.5"/>
<circle cx="880.2" cy="115.0" r="2.2" fill="#74c044" stroke="#4f8f2c" stroke-width="0.5"/>
<circle cx="880.2" cy="106.1" r="2.2" fill="#74c044" stroke="#4f8f2c" stroke-width="0.5"/>
<circle cx="894.0" cy="131.3" r="2.2" fill="#74c044" stroke="#4f8f2c" stroke-width="0.5"/>
<path d="M 935.6,131.3 L 942.5,123.5 M 942.5,123.5 L 942.5,115.0 M 942.5,115.0 L 942.5,106.1 M 935.6,131.3 L 928.6,123.2 M 928.6,123.2 L 935.2,115.0 M 928.6,123.2 L 921.8,115.0 M 921.8,115.0 L 921.8,106.1 M 935.6,131 L 935.6,152" stroke="#555" stroke-width="0.9" fill="none"/>
<rect x="933.2" y="136" width="4.8" height="4.8" fill="#3e7cd4"/>
<rect x="933.2" y="144" width="4.8" height="4.8" fill="#3e7cd4"/>
<circle cx="942.5" cy="123.5" r="2.2" fill="#74c044" stroke="#4f8f2c" stroke-width="0.5"/>
<circle cx="942.5" cy="115.0" r="2.2" fill="#74c044" stroke="#4f8f2c" stroke-width="0.5"/>
<circle cx="942.5" cy="106.1" r="2.2" fill="#74c044" stroke="#4f8f2c" stroke-width="0.5"/>
<circle cx="935.2" cy="115.0" r="2.2" fill="#74c044" stroke="#4f8f2c" stroke-width="0.5"/>
<circle cx="928.6" cy="123.2" r="2.2" fill="#74c044" stroke="#4f8f2c" stroke-width="0.5"/>
<circle cx="921.8" cy="115.0" r="2.2" fill="#74c044" stroke="#4f8f2c" stroke-width="0.5"/>
<circle cx="921.8" cy="106.1" r="2.2" fill="#74c044" stroke="#4f8f2c" stroke-width="0.5"/>
<circle cx="935.6" cy="131.3" r="2.2" fill="#74c044" stroke="#4f8f2c" stroke-width="0.5"/>
</g>
</g>
<path d="M 833.1,112.39999999999999 L 864.1,142.79999999999998 M 864.1,112.39999999999999 L 833.1,142.79999999999998" stroke="#a64a48" stroke-width="5.8" stroke-linecap="round" fill="none"/>
<g transform="translate(0 337.3)">
<rect x="730.2" y="89.9" width="237" height="62" fill="#f4f3dc"/>
<path d="M 735,95.7 C 737.8,96.6 746.0,99.4 752,101 C 758.0,102.6 765.0,104.2 770.8,105.4 C 776.6,106.7 781.5,108.1 787,108.5 C 792.5,108.9 798.3,108.8 803.8,108 C 809.3,107.2 814.5,105.7 820,104 C 825.5,102.3 834.0,98.8 836.8,97.8" fill="none" stroke="#bdb39d" stroke-width="1.4" opacity="0.7"/>
<path d="M 854.6,100.3 C 858.2,100.0 868.8,98.9 876,98.5 C 883.2,98.1 891.0,97.6 897.8,97.8 C 904.6,98.0 910.7,98.7 917,99.5 C 923.3,100.3 930.0,101.7 935.8,102.9 C 941.6,104.2 947.1,105.3 952,107 C 956.9,108.7 962.8,112.0 965,113" fill="none" stroke="#bdb39d" stroke-width="1.4" opacity="0.7"/>
<path d="M 730.2,118 C 733.5,117.7 743.2,116.4 750,116 C 756.8,115.6 764.6,115.3 770.8,115.5 C 777.0,115.7 781.5,116.6 787,117 C 792.5,117.4 798.5,118.3 803.8,118 C 809.1,117.7 813.9,116.2 819,115 C 824.1,113.8 828.6,111.8 834.3,110.5 C 840.0,109.2 846.6,107.8 853,107 C 859.4,106.2 865.4,105.9 872.4,105.4 C 879.4,104.9 887.4,104.4 895,104 C 902.6,103.6 911.0,102.7 918,102.9 C 925.0,103.1 930.7,104.2 937,105 C 943.3,105.8 952.8,107.5 956,108" fill="none" stroke="#bdb39d" stroke-width="1.4" opacity="0.7"/>
<path d="M 735.2,139.7 C 737.7,139.4 744.9,138.6 750,138 C 755.1,137.4 760.5,137.1 765.7,135.9 C 770.9,134.7 775.9,132.5 781,131 C 786.1,129.5 790.5,128.1 796.2,127 C 801.9,125.9 808.6,125.1 815,124.5 C 821.4,123.9 828.0,123.5 834.3,123.2 C 840.6,122.9 846.6,122.7 853,122.5 C 859.4,122.3 864.9,122.0 872.4,121.9 C 879.9,121.8 889.5,121.8 898,122 C 906.5,122.2 915.4,122.8 923.2,123.2 C 931.0,123.6 938.0,124.1 945,124.5 C 952.0,124.9 961.7,125.5 965,125.7" fill="none" stroke="#bdb39d" stroke-width="1.4" opacity="0.7"/>
<path d="M 783.5,124.4 C 787.8,124.8 800.5,125.9 809,127 C 817.5,128.1 827.8,129.5 834.3,130.8 C 840.8,132.1 843.4,133.5 848,135 C 852.6,136.5 857.9,139.2 862.2,139.7 C 866.5,140.2 870.2,138.8 874,138 C 877.8,137.2 880.0,136.1 885,134.6 C 890.0,133.1 897.6,130.5 904,129 C 910.4,127.5 920.0,126.2 923.2,125.7" fill="none" stroke="#bdb39d" stroke-width="1.4" opacity="0.7"/>
<path d="M 821.6,113 C 824.7,113.4 833.6,114.7 840,115.5 C 846.4,116.3 853.4,117.8 859.7,118 C 866.0,118.2 871.6,117.4 878,117 C 884.4,116.6 891.3,116.2 897.8,115.5 C 904.3,114.8 910.7,113.8 917,113 C 923.3,112.2 930.3,110.9 935.8,110.5 C 941.3,110.1 945.1,110.3 950,110.5 C 954.9,110.7 962.5,111.5 965,111.7" fill="none" stroke="#bdb39d" stroke-width="1.4" opacity="0.7"/>
<path d="M 847,130.8 C 850.2,131.5 859.7,133.7 866,135 C 872.3,136.3 879.7,138.4 885,138.4 C 890.3,138.4 893.8,136.3 898,135 C 902.2,133.7 905.2,131.8 910.5,130.8 C 915.8,129.8 923.7,129.4 930,129 C 936.3,128.6 945.4,128.3 948.5,128.2" fill="none" stroke="#bdb39d" stroke-width="1.4" opacity="0.7"/>
<path d="M 745.6,116.1 C 748.5,116.5 757.4,118.7 763.2,118.5 C 769.1,118.3 775.6,115.9 780.7,115 C 785.8,114.1 788.7,114.4 793.6,113.2 C 798.5,112.0 804.3,110.0 810,108 C 815.7,106.0 822.9,102.9 827.6,100.9 C 832.3,98.9 836.4,97.0 838.2,96.2" fill="none" stroke="#bdb39d" stroke-width="1.4" opacity="0.7"/>
<path d="M 763.2,129.6 C 766.1,129.7 774.9,129.5 780.7,130.2 C 786.6,130.9 792.4,133.9 798.3,133.7 C 804.2,133.5 810.0,130.8 815.9,129 C 821.8,127.2 830.6,124.2 833.5,123.2" fill="none" stroke="#bdb39d" stroke-width="1.4" opacity="0.7"/>
<path d="M 733.6999999999999,156 L 732.1999999999999,171 M 735.1,156 L 736.6,171 M 732.1999999999999,173.5 L 733.6999999999999,186 M 736.6,173.5 L 735.1,186 M 741.5799999999999,156 L 740.0799999999999,171 M 742.98,156 L 744.48,171 M 740.0799999999999,173.5 L 741.5799999999999,186 M 744.48,173.5 L 742.98,186 M 749.4599999999999,156 L 747.9599999999999,171 M 750.86,156 L 752.36,171 M 747.9599999999999,173.5 L 749.4599999999999,186 M 752.36,173.5 L 750.86,186 M 757.3399999999999,156 L 755.8399999999999,171 M 758.74,156 L 760.24,171 M 755.8399999999999,173.5 L 757.3399999999999,186 M 760.24,173.5 L 758.74,186 M 765.2199999999999,156 L 763.7199999999999,171 M 766.62,156 L 768.12,171 M 763.7199999999999,173.5 L 765.2199999999999,186 M 768.12,173.5 L 766.62,186 M 773.0999999999999,156 L 771.5999999999999,171 M 774.5,156 L 776.0,171 M 771.5999999999999,173.5 L 773.0999999999999,186 M 776.0,173.5 L 774.5,186 M 780.9799999999999,156 L 779.4799999999999,171 M 782.38,156 L 783.88,171 M 779.4799999999999,173.5 L 780.9799999999999,186 M 783.88,173.5 L 782.38,186 M 788.8599999999999,156 L 787.3599999999999,171 M 790.26,156 L 791.76,171 M 787.3599999999999,173.5 L 788.8599999999999,186 M 791.76,173.5 L 790.26,186 M 796.7399999999999,156 L 795.2399999999999,171 M 798.14,156 L 799.64,171 M 795.2399999999999,173.5 L 796.7399999999999,186 M 799.64,173.5 L 798.14,186 M 804.6199999999999,156 L 803.1199999999999,171 M 806.02,156 L 807.52,171 M 803.1199999999999,173.5 L 804.6199999999999,186 M 807.52,173.5 L 806.02,186 M 812.4999999999999,156 L 810.9999999999999,171 M 813.9,156 L 815.4,171 M 810.9999999999999,173.5 L 812.4999999999999,186 M 815.4,173.5 L 813.9,186 M 820.3799999999999,156 L 818.8799999999999,171 M 821.78,156 L 823.28,171 M 818.8799999999999,173.5 L 820.3799999999999,186 M 823.28,173.5 L 821.78,186 M 828.26,156 L 826.76,171 M 829.6600000000001,156 L 831.1600000000001,171 M 826.76,173.5 L 828.26,186 M 831.1600000000001,173.5 L 829.6600000000001,186 M 836.1399999999999,156 L 834.6399999999999,171 M 837.54,156 L 839.04,171 M 834.6399999999999,173.5 L 836.1399999999999,186 M 839.04,173.5 L 837.54,186 M 844.02,156 L 842.52,171 M 845.4200000000001,156 L 846.9200000000001,171 M 842.52,173.5 L 844.02,186 M 846.9200000000001,173.5 L 845.4200000000001,186 M 851.9,156 L 850.4,171 M 853.3000000000001,156 L 854.8000000000001,171 M 850.4,173.5 L 851.9,186 M 854.8000000000001,173.5 L 853.3000000000001,186 M 859.78,156 L 858.28,171 M 861.1800000000001,156 L 862.6800000000001,171 M 858.28,173.5 L 859.78,186 M 862.6800000000001,173.5 L 861.1800000000001,186 M 867.66,156 L 866.16,171 M 869.0600000000001,156 L 870.5600000000001,171 M 866.16,173.5 L 867.66,186 M 870.5600000000001,173.5 L 869.0600000000001,186 M 875.54,156 L 874.04,171 M 876.94,156 L 878.44,171 M 874.04,173.5 L 875.54,186 M 878.44,173.5 L 876.94,186 M 883.42,156 L 881.92,171 M 884.82,156 L 886.32,171 M 881.92,173.5 L 883.42,186 M 886.32,173.5 L 884.82,186 M 891.3,156 L 889.8,171 M 892.7,156 L 894.2,171 M 889.8,173.5 L 891.3,186 M 894.2,173.5 L 892.7,186 M 899.18,156 L 897.68,171 M 900.58,156 L 902.08,171 M 897.68,173.5 L 899.18,186 M 902.08,173.5 L 900.58,186 M 907.06,156 L 905.56,171 M 908.46,156 L 909.96,171 M 905.56,173.5 L 907.06,186 M 909.96,173.5 L 908.46,186 M 914.9399999999999,156 L 913.4399999999999,171 M 916.34,156 L 917.84,171 M 913.4399999999999,173.5 L 914.9399999999999,186 M 917.84,173.5 L 916.34,186 M 922.8199999999999,156 L 921.3199999999999,171 M 924.22,156 L 925.72,171 M 921.3199999999999,173.5 L 922.8199999999999,186 M 925.72,173.5 L 924.22,186 M 930.6999999999999,156 L 929.1999999999999,171 M 932.1,156 L 933.6,171 M 929.1999999999999,173.5 L 930.6999999999999,186 M 933.6,173.5 L 932.1,186 M 938.5799999999999,156 L 937.0799999999999,171 M 939.98,156 L 941.48,171 M 937.0799999999999,173.5 L 938.5799999999999,186 M 941.48,173.5 L 939.98,186 M 946.4599999999999,156 L 944.9599999999999,171 M 947.86,156 L 949.36,171 M 944.9599999999999,173.5 L 946.4599999999999,186 M 949.36,173.5 L 947.86,186 M 954.3399999999999,156 L 952.8399999999999,171 M 955.74,156 L 957.24,171 M 952.8399999999999,173.5 L 954.3399999999999,186 M 957.24,173.5 L 955.74,186 M 962.2199999999999,156 L 960.7199999999999,171 M 963.62,156 L 965.12,171 M 960.7199999999999,173.5 L 962.2199999999999,186 M 965.12,173.5 L 963.62,186" stroke="#d7cfb8" stroke-width="1.2" fill="none"/>
<g fill="#a59b85"><circle cx="734.40" cy="153.5" r="3.5"/><circle cx="734.40" cy="189.3" r="3.5"/><circle cx="742.28" cy="153.5" r="3.5"/><circle cx="742.28" cy="189.3" r="3.5"/><circle cx="750.16" cy="153.5" r="3.5"/><circle cx="750.16" cy="189.3" r="3.5"/><circle cx="758.04" cy="153.5" r="3.5"/><circle cx="758.04" cy="189.3" r="3.5"/><circle cx="765.92" cy="153.5" r="3.5"/><circle cx="765.92" cy="189.3" r="3.5"/><circle cx="773.80" cy="153.5" r="3.5"/><circle cx="773.80" cy="189.3" r="3.5"/><circle cx="781.68" cy="153.5" r="3.5"/><circle cx="781.68" cy="189.3" r="3.5"/><circle cx="789.56" cy="153.5" r="3.5"/><circle cx="789.56" cy="189.3" r="3.5"/><circle cx="797.44" cy="153.5" r="3.5"/><circle cx="797.44" cy="189.3" r="3.5"/><circle cx="805.32" cy="153.5" r="3.5"/><circle cx="805.32" cy="189.3" r="3.5"/><circle cx="813.20" cy="153.5" r="3.5"/><circle cx="813.20" cy="189.3" r="3.5"/><circle cx="821.08" cy="153.5" r="3.5"/><circle cx="821.08" cy="189.3" r="3.5"/><circle cx="828.96" cy="153.5" r="3.5"/><circle cx="828.96" cy="189.3" r="3.5"/><circle cx="836.84" cy="153.5" r="3.5"/><circle cx="836.84" cy="189.3" r="3.5"/><circle cx="844.72" cy="153.5" r="3.5"/><circle cx="844.72" cy="189.3" r="3.5"/><circle cx="852.60" cy="153.5" r="3.5"/><circle cx="852.60" cy="189.3" r="3.5"/><circle cx="860.48" cy="153.5" r="3.5"/><circle cx="860.48" cy="189.3" r="3.5"/><circle cx="868.36" cy="153.5" r="3.5"/><circle cx="868.36" cy="189.3" r="3.5"/><circle cx="876.24" cy="153.5" r="3.5"/><circle cx="876.24" cy="189.3" r="3.5"/><circle cx="884.12" cy="153.5" r="3.5"/><circle cx="884.12" cy="189.3" r="3.5"/><circle cx="892.00" cy="153.5" r="3.5"/><circle cx="892.00" cy="189.3" r="3.5"/><circle cx="899.88" cy="153.5" r="3.5"/><circle cx="899.88" cy="189.3" r="3.5"/><circle cx="907.76" cy="153.5" r="3.5"/><circle cx="907.76" cy="189.3" r="3.5"/><circle cx="915.64" cy="153.5" r="3.5"/><circle cx="915.64" cy="189.3" r="3.5"/><circle cx="923.52" cy="153.5" r="3.5"/><circle cx="923.52" cy="189.3" r="3.5"/><circle cx="931.40" cy="153.5" r="3.5"/><circle cx="931.40" cy="189.3" r="3.5"/><circle cx="939.28" cy="153.5" r="3.5"/><circle cx="939.28" cy="189.3" r="3.5"/><circle cx="947.16" cy="153.5" r="3.5"/><circle cx="947.16" cy="189.3" r="3.5"/><circle cx="955.04" cy="153.5" r="3.5"/><circle cx="955.04" cy="189.3" r="3.5"/><circle cx="962.92" cy="153.5" r="3.5"/><circle cx="962.92" cy="189.3" r="3.5"/></g>
<g transform="translate(0 -1.8)">
<path d="M 761.4,131.3 L 754.5,123.5 M 754.5,123.5 L 754.5,115.0 M 754.5,115.0 L 754.5,106.1 M 761.4,131.3 L 768.4,123.2 M 768.4,123.2 L 761.8,115.0 M 768.4,123.2 L 775.2,115.0 M 775.2,115.0 L 775.2,106.1 M 761.4,131 L 761.4,153.8" stroke="#555" stroke-width="0.9" fill="none"/>
<rect x="759.0" y="136" width="4.8" height="4.8" fill="#3e7cd4"/>
<rect x="759.0" y="144" width="4.8" height="4.8" fill="#3e7cd4"/>
<circle cx="754.5" cy="123.5" r="2.2" fill="#74c044" stroke="#4f8f2c" stroke-width="0.5"/>
<circle cx="754.5" cy="115.0" r="2.2" fill="#74c044" stroke="#4f8f2c" stroke-width="0.5"/>
<circle cx="754.5" cy="106.1" r="2.2" fill="#74c044" stroke="#4f8f2c" stroke-width="0.5"/>
<circle cx="761.8" cy="115.0" r="2.2" fill="#74c044" stroke="#4f8f2c" stroke-width="0.5"/>
<circle cx="768.4" cy="123.2" r="2.2" fill="#74c044" stroke="#4f8f2c" stroke-width="0.5"/>
<circle cx="775.2" cy="115.0" r="2.2" fill="#74c044" stroke="#4f8f2c" stroke-width="0.5"/>
<circle cx="775.2" cy="106.1" r="2.2" fill="#74c044" stroke="#4f8f2c" stroke-width="0.5"/>
<circle cx="761.4" cy="131.3" r="2.2" fill="#74c044" stroke="#4f8f2c" stroke-width="0.5"/>
<path d="M 810.1,131.3 L 817.0,123.5 M 817.0,123.5 L 817.0,115.0 M 817.0,115.0 L 817.0,106.1 M 810.1,131.3 L 803.1,123.2 M 803.1,123.2 L 809.7,115.0 M 803.1,123.2 L 796.3,115.0 M 796.3,115.0 L 796.3,106.1 M 810.1,131 L 810.1,153.8" stroke="#555" stroke-width="0.9" fill="none"/>
<rect x="807.7" y="136" width="4.8" height="4.8" fill="#3e7cd4"/>
<rect x="807.7" y="144" width="4.8" height="4.8" fill="#3e7cd4"/>
<circle cx="817.0" cy="123.5" r="2.2" fill="#74c044" stroke="#4f8f2c" stroke-width="0.5"/>
<circle cx="817.0" cy="115.0" r="2.2" fill="#74c044" stroke="#4f8f2c" stroke-width="0.5"/>
<circle cx="817.0" cy="106.1" r="2.2" fill="#74c044" stroke="#4f8f2c" stroke-width="0.5"/>
<circle cx="809.7" cy="115.0" r="2.2" fill="#74c044" stroke="#4f8f2c" stroke-width="0.5"/>
<circle cx="803.1" cy="123.2" r="2.2" fill="#74c044" stroke="#4f8f2c" stroke-width="0.5"/>
<circle cx="796.3" cy="115.0" r="2.2" fill="#74c044" stroke="#4f8f2c" stroke-width="0.5"/>
<circle cx="796.3" cy="106.1" r="2.2" fill="#74c044" stroke="#4f8f2c" stroke-width="0.5"/>
<circle cx="810.1" cy="131.3" r="2.2" fill="#74c044" stroke="#4f8f2c" stroke-width="0.5"/>
<path d="M 844.9,131.3 L 838.0,123.5 M 838.0,123.5 L 838.0,115.0 M 838.0,115.0 L 838.0,106.1 M 844.9,131.3 L 851.9,123.2 M 851.9,123.2 L 845.3,115.0 M 851.9,123.2 L 858.7,115.0 M 858.7,115.0 L 858.7,106.1 M 844.9,131 L 844.9,153.8" stroke="#555" stroke-width="0.9" fill="none"/>
<rect x="842.5" y="136" width="4.8" height="4.8" fill="#3e7cd4"/>
<rect x="842.5" y="144" width="4.8" height="4.8" fill="#3e7cd4"/>
<circle cx="838.0" cy="123.5" r="2.2" fill="#74c044" stroke="#4f8f2c" stroke-width="0.5"/>
<circle cx="838.0" cy="115.0" r="2.2" fill="#74c044" stroke="#4f8f2c" stroke-width="0.5"/>
<circle cx="838.0" cy="106.1" r="2.2" fill="#74c044" stroke="#4f8f2c" stroke-width="0.5"/>
<circle cx="845.3" cy="115.0" r="2.2" fill="#74c044" stroke="#4f8f2c" stroke-width="0.5"/>
<circle cx="851.9" cy="123.2" r="2.2" fill="#74c044" stroke="#4f8f2c" stroke-width="0.5"/>
<circle cx="858.7" cy="115.0" r="2.2" fill="#74c044" stroke="#4f8f2c" stroke-width="0.5"/>
<circle cx="858.7" cy="106.1" r="2.2" fill="#74c044" stroke="#4f8f2c" stroke-width="0.5"/>
<circle cx="844.9" cy="131.3" r="2.2" fill="#74c044" stroke="#4f8f2c" stroke-width="0.5"/>
<path d="M 894.0,131.3 L 900.9,123.5 M 900.9,123.5 L 900.9,115.0 M 900.9,115.0 L 900.9,106.1 M 894.0,131.3 L 887.0,123.2 M 887.0,123.2 L 893.6,115.0 M 887.0,123.2 L 880.2,115.0 M 880.2,115.0 L 880.2,106.1 M 894.0,131 L 894.0,153.8" stroke="#555" stroke-width="0.9" fill="none"/>
<rect x="891.6" y="136" width="4.8" height="4.8" fill="#3e7cd4"/>
<rect x="891.6" y="144" width="4.8" height="4.8" fill="#3e7cd4"/>
<circle cx="900.9" cy="123.5" r="2.2" fill="#74c044" stroke="#4f8f2c" stroke-width="0.5"/>
<circle cx="900.9" cy="115.0" r="2.2" fill="#74c044" stroke="#4f8f2c" stroke-width="0.5"/>
<circle cx="900.9" cy="106.1" r="2.2" fill="#74c044" stroke="#4f8f2c" stroke-width="0.5"/>
<circle cx="893.6" cy="115.0" r="2.2" fill="#74c044" stroke="#4f8f2c" stroke-width="0.5"/>
<circle cx="887.0" cy="123.2" r="2.2" fill="#74c044" stroke="#4f8f2c" stroke-width="0.5"/>
<circle cx="880.2" cy="115.0" r="2.2" fill="#74c044" stroke="#4f8f2c" stroke-width="0.5"/>
<circle cx="880.2" cy="106.1" r="2.2" fill="#74c044" stroke="#4f8f2c" stroke-width="0.5"/>
<circle cx="894.0" cy="131.3" r="2.2" fill="#74c044" stroke="#4f8f2c" stroke-width="0.5"/>
<path d="M 935.6,131.3 L 942.5,123.5 M 942.5,123.5 L 942.5,115.0 M 942.5,115.0 L 942.5,106.1 M 935.6,131.3 L 928.6,123.2 M 928.6,123.2 L 935.2,115.0 M 928.6,123.2 L 921.8,115.0 M 921.8,115.0 L 921.8,106.1 M 935.6,131 L 935.6,153.8" stroke="#555" stroke-width="0.9" fill="none"/>
<rect x="933.2" y="136" width="4.8" height="4.8" fill="#3e7cd4"/>
<rect x="933.2" y="144" width="4.8" height="4.8" fill="#3e7cd4"/>
<circle cx="942.5" cy="123.5" r="2.2" fill="#74c044" stroke="#4f8f2c" stroke-width="0.5"/>
<circle cx="942.5" cy="115.0" r="2.2" fill="#74c044" stroke="#4f8f2c" stroke-width="0.5"/>
<circle cx="942.5" cy="106.1" r="2.2" fill="#74c044" stroke="#4f8f2c" stroke-width="0.5"/>
<circle cx="935.2" cy="115.0" r="2.2" fill="#74c044" stroke="#4f8f2c" stroke-width="0.5"/>
<circle cx="928.6" cy="123.2" r="2.2" fill="#74c044" stroke="#4f8f2c" stroke-width="0.5"/>
<circle cx="921.8" cy="115.0" r="2.2" fill="#74c044" stroke="#4f8f2c" stroke-width="0.5"/>
<circle cx="921.8" cy="106.1" r="2.2" fill="#74c044" stroke="#4f8f2c" stroke-width="0.5"/>
<circle cx="935.6" cy="131.3" r="2.2" fill="#74c044" stroke="#4f8f2c" stroke-width="0.5"/>
</g>
</g>
<path d="M 825.9,495.7 L 856.9,526.1 M 856.9,495.7 L 825.9,526.1" stroke="#a64a48" stroke-width="5.8" stroke-linecap="round" fill="none"/>
<defs><radialGradient id="mtg" cx="0.42" cy="0.38" r="0.65"><stop offset="0" stop-color="#c6c6c6"/><stop offset="0.6" stop-color="#a3a3a3"/><stop offset="1" stop-color="#878787"/></radialGradient><radialGradient id="mtl" cx="0.42" cy="0.38" r="0.65"><stop offset="0" stop-color="#d8d8d8"/><stop offset="0.6" stop-color="#b4b4b4"/><stop offset="1" stop-color="#929292"/></radialGradient><linearGradient id="mtshade" x1="0" y1="0" x2="0" y2="1"><stop offset="0" stop-color="#fff" stop-opacity="0.05"/><stop offset="0.45" stop-color="#fff" stop-opacity="0.12"/><stop offset="1" stop-color="#000" stop-opacity="0.12"/></linearGradient></defs>
<path d="M 51,543.5 L 199,543.5 C 201.5,545 201,548 199.5,550 L 194.5,567.5 L 46,567.5 C 43.5,566 43,558 44,554 C 45,549 47.5,545 51,543.5 Z" fill="#939393"/>
<circle cx="51.0" cy="545.6" r="2.85" fill="url(#mtl)"/>
<circle cx="56.2" cy="545.6" r="2.85" fill="url(#mtg)"/>
<circle cx="61.4" cy="545.6" r="2.85" fill="url(#mtg)"/>
<circle cx="66.6" cy="545.6" r="2.85" fill="url(#mtl)"/>
<circle cx="71.8" cy="545.6" r="2.85" fill="url(#mtg)"/>
<circle cx="77.0" cy="545.6" r="2.85" fill="url(#mtg)"/>
<circle cx="82.2" cy="545.6" r="2.85" fill="url(#mtl)"/>
<circle cx="87.4" cy="545.6" r="2.85" fill="url(#mtg)"/>
<circle cx="92.6" cy="545.6" r="2.85" fill="url(#mtg)"/>
<circle cx="97.8" cy="545.6" r="2.85" fill="url(#mtl)"/>
<circle cx="103.0" cy="545.6" r="2.85" fill="url(#mtg)"/>
<circle cx="108.2" cy="545.6" r="2.85" fill="url(#mtg)"/>
<circle cx="113.4" cy="545.6" r="2.85" fill="url(#mtl)"/>
<circle cx="118.6" cy="545.6" r="2.85" fill="url(#mtg)"/>
<circle cx="123.8" cy="545.6" r="2.85" fill="url(#mtg)"/>
<circle cx="129.0" cy="545.6" r="2.85" fill="url(#mtl)"/>
<circle cx="134.2" cy="545.6" r="2.85" fill="url(#mtg)"/>
<circle cx="139.4" cy="545.6" r="2.85" fill="url(#mtg)"/>
<circle cx="144.6" cy="545.6" r="2.85" fill="url(#mtl)"/>
<circle cx="149.8" cy="545.6" r="2.85" fill="url(#mtg)"/>
<circle cx="155.0" cy="545.6" r="2.85" fill="url(#mtg)"/>
<circle cx="160.2" cy="545.6" r="2.85" fill="url(#mtl)"/>
<circle cx="165.4" cy="545.6" r="2.85" fill="url(#mtg)"/>
<circle cx="170.6" cy="545.6" r="2.85" fill="url(#mtg)"/>
<circle cx="175.8" cy="545.6" r="2.85" fill="url(#mtl)"/>
<circle cx="181.0" cy="545.6" r="2.85" fill="url(#mtg)"/>
<circle cx="186.2" cy="545.6" r="2.85" fill="url(#mtg)"/>
<circle cx="191.4" cy="545.6" r="2.85" fill="url(#mtl)"/>
<circle cx="196.6" cy="545.6" r="2.85" fill="url(#mtg)"/>
<circle cx="49.6" cy="550.6" r="2.85" fill="url(#mtg)"/>
<circle cx="54.8" cy="550.6" r="2.85" fill="url(#mtg)"/>
<circle cx="60.0" cy="550.6" r="2.85" fill="url(#mtl)"/>
<circle cx="65.2" cy="550.6" r="2.85" fill="url(#mtg)"/>
<circle cx="70.4" cy="550.6" r="2.85" fill="url(#mtg)"/>
<circle cx="75.6" cy="550.6" r="2.85" fill="url(#mtl)"/>
<circle cx="80.8" cy="550.6" r="2.85" fill="url(#mtg)"/>
<circle cx="86.0" cy="550.6" r="2.85" fill="url(#mtg)"/>
<circle cx="91.2" cy="550.6" r="2.85" fill="url(#mtl)"/>
<circle cx="96.4" cy="550.6" r="2.85" fill="url(#mtg)"/>
<circle cx="101.6" cy="550.6" r="2.85" fill="url(#mtg)"/>
<circle cx="106.8" cy="550.6" r="2.85" fill="url(#mtl)"/>
<circle cx="112.0" cy="550.6" r="2.85" fill="url(#mtg)"/>
<circle cx="117.2" cy="550.6" r="2.85" fill="url(#mtg)"/>
<circle cx="122.4" cy="550.6" r="2.85" fill="url(#mtl)"/>
<circle cx="127.6" cy="550.6" r="2.85" fill="url(#mtg)"/>
<circle cx="132.8" cy="550.6" r="2.85" fill="url(#mtg)"/>
<circle cx="138.0" cy="550.6" r="2.85" fill="url(#mtl)"/>
<circle cx="143.2" cy="550.6" r="2.85" fill="url(#mtg)"/>
<circle cx="148.4" cy="550.6" r="2.85" fill="url(#mtg)"/>
<circle cx="153.6" cy="550.6" r="2.85" fill="url(#mtl)"/>
<circle cx="158.8" cy="550.6" r="2.85" fill="url(#mtg)"/>
<circle cx="164.0" cy="550.6" r="2.85" fill="url(#mtg)"/>
<circle cx="169.2" cy="550.6" r="2.85" fill="url(#mtl)"/>
<circle cx="174.4" cy="550.6" r="2.85" fill="url(#mtg)"/>
<circle cx="179.6" cy="550.6" r="2.85" fill="url(#mtg)"/>
<circle cx="184.8" cy="550.6" r="2.85" fill="url(#mtl)"/>
<circle cx="190.0" cy="550.6" r="2.85" fill="url(#mtg)"/>
<circle cx="195.2" cy="550.6" r="2.85" fill="url(#mtg)"/>
<circle cx="45.0" cy="555.6" r="2.85" fill="url(#mtg)"/>
<circle cx="50.2" cy="555.6" r="2.85" fill="url(#mtl)"/>
<circle cx="55.4" cy="555.6" r="2.85" fill="url(#mtg)"/>
<circle cx="60.6" cy="555.6" r="2.85" fill="url(#mtg)"/>
<circle cx="65.8" cy="555.6" r="2.85" fill="url(#mtl)"/>
<circle cx="71.0" cy="555.6" r="2.85" fill="url(#mtg)"/>
<circle cx="76.2" cy="555.6" r="2.85" fill="url(#mtg)"/>
<circle cx="81.4" cy="555.6" r="2.85" fill="url(#mtl)"/>
<circle cx="86.6" cy="555.6" r="2.85" fill="url(#mtg)"/>
<circle cx="91.8" cy="555.6" r="2.85" fill="url(#mtg)"/>
<circle cx="97.0" cy="555.6" r="2.85" fill="url(#mtl)"/>
<circle cx="102.2" cy="555.6" r="2.85" fill="url(#mtg)"/>
<circle cx="107.4" cy="555.6" r="2.85" fill="url(#mtg)"/>
<circle cx="112.6" cy="555.6" r="2.85" fill="url(#mtl)"/>
<circle cx="117.8" cy="555.6" r="2.85" fill="url(#mtg)"/>
<circle cx="123.0" cy="555.6" r="2.85" fill="url(#mtg)"/>
<circle cx="128.2" cy="555.6" r="2.85" fill="url(#mtl)"/>
<circle cx="133.4" cy="555.6" r="2.85" fill="url(#mtg)"/>
<circle cx="138.6" cy="555.6" r="2.85" fill="url(#mtg)"/>
<circle cx="143.8" cy="555.6" r="2.85" fill="url(#mtl)"/>
<circle cx="149.0" cy="555.6" r="2.85" fill="url(#mtg)"/>
<circle cx="154.2" cy="555.6" r="2.85" fill="url(#mtg)"/>
<circle cx="159.4" cy="555.6" r="2.85" fill="url(#mtl)"/>
<circle cx="164.6" cy="555.6" r="2.85" fill="url(#mtg)"/>
<circle cx="169.8" cy="555.6" r="2.85" fill="url(#mtg)"/>
<circle cx="175.0" cy="555.6" r="2.85" fill="url(#mtl)"/>
<circle cx="180.2" cy="555.6" r="2.85" fill="url(#mtg)"/>
<circle cx="185.4" cy="555.6" r="2.85" fill="url(#mtg)"/>
<circle cx="190.6" cy="555.6" r="2.85" fill="url(#mtl)"/>
<circle cx="195.8" cy="555.6" r="2.85" fill="url(#mtg)"/>
<circle cx="47.6" cy="560.6" r="2.85" fill="url(#mtl)"/>
<circle cx="52.8" cy="560.6" r="2.85" fill="url(#mtg)"/>
<circle cx="58.0" cy="560.6" r="2.85" fill="url(#mtg)"/>
<circle cx="63.2" cy="560.6" r="2.85" fill="url(#mtl)"/>
<circle cx="68.4" cy="560.6" r="2.85" fill="url(#mtg)"/>
<circle cx="73.6" cy="560.6" r="2.85" fill="url(#mtg)"/>
<circle cx="78.8" cy="560.6" r="2.85" fill="url(#mtl)"/>
<circle cx="84.0" cy="560.6" r="2.85" fill="url(#mtg)"/>
<circle cx="89.2" cy="560.6" r="2.85" fill="url(#mtg)"/>
<circle cx="94.4" cy="560.6" r="2.85" fill="url(#mtl)"/>
<circle cx="99.6" cy="560.6" r="2.85" fill="url(#mtg)"/>
<circle cx="104.8" cy="560.6" r="2.85" fill="url(#mtg)"/>
<circle cx="110.0" cy="560.6" r="2.85" fill="url(#mtl)"/>
<circle cx="115.2" cy="560.6" r="2.85" fill="url(#mtg)"/>
<circle cx="120.4" cy="560.6" r="2.85" fill="url(#mtg)"/>
<circle cx="125.6" cy="560.6" r="2.85" fill="url(#mtl)"/>
<circle cx="130.8" cy="560.6" r="2.85" fill="url(#mtg)"/>
<circle cx="136.0" cy="560.6" r="2.85" fill="url(#mtg)"/>
<circle cx="141.2" cy="560.6" r="2.85" fill="url(#mtl)"/>
<circle cx="146.4" cy="560.6" r="2.85" fill="url(#mtg)"/>
<circle cx="151.6" cy="560.6" r="2.85" fill="url(#mtg)"/>
<circle cx="156.8" cy="560.6" r="2.85" fill="url(#mtl)"/>
<circle cx="162.0" cy="560.6" r="2.85" fill="url(#mtg)"/>
<circle cx="167.2" cy="560.6" r="2.85" fill="url(#mtg)"/>
<circle cx="172.4" cy="560.6" r="2.85" fill="url(#mtl)"/>
<circle cx="177.6" cy="560.6" r="2.85" fill="url(#mtg)"/>
<circle cx="182.8" cy="560.6" r="2.85" fill="url(#mtg)"/>
<circle cx="188.0" cy="560.6" r="2.85" fill="url(#mtl)"/>
<circle cx="193.2" cy="560.6" r="2.85" fill="url(#mtg)"/>
<circle cx="46.0" cy="565.0" r="2.85" fill="url(#mtg)"/>
<circle cx="51.2" cy="565.0" r="2.85" fill="url(#mtg)"/>
<circle cx="56.4" cy="565.0" r="2.85" fill="url(#mtl)"/>
<circle cx="61.6" cy="565.0" r="2.85" fill="url(#mtg)"/>
<circle cx="66.8" cy="565.0" r="2.85" fill="url(#mtg)"/>
<circle cx="72.0" cy="565.0" r="2.85" fill="url(#mtl)"/>
<circle cx="77.2" cy="565.0" r="2.85" fill="url(#mtg)"/>
<circle cx="82.4" cy="565.0" r="2.85" fill="url(#mtg)"/>
<circle cx="87.6" cy="565.0" r="2.85" fill="url(#mtl)"/>
<circle cx="92.8" cy="565.0" r="2.85" fill="url(#mtg)"/>
<circle cx="98.0" cy="565.0" r="2.85" fill="url(#mtg)"/>
<circle cx="103.2" cy="565.0" r="2.85" fill="url(#mtl)"/>
<circle cx="108.4" cy="565.0" r="2.85" fill="url(#mtg)"/>
<circle cx="113.6" cy="565.0" r="2.85" fill="url(#mtg)"/>
<circle cx="118.8" cy="565.0" r="2.85" fill="url(#mtl)"/>
<circle cx="124.0" cy="565.0" r="2.85" fill="url(#mtg)"/>
<circle cx="129.2" cy="565.0" r="2.85" fill="url(#mtg)"/>
<circle cx="134.4" cy="565.0" r="2.85" fill="url(#mtl)"/>
<circle cx="139.6" cy="565.0" r="2.85" fill="url(#mtg)"/>
<circle cx="144.8" cy="565.0" r="2.85" fill="url(#mtg)"/>
<circle cx="150.0" cy="565.0" r="2.85" fill="url(#mtl)"/>
<circle cx="155.2" cy="565.0" r="2.85" fill="url(#mtg)"/>
<circle cx="160.4" cy="565.0" r="2.85" fill="url(#mtg)"/>
<circle cx="165.6" cy="565.0" r="2.85" fill="url(#mtl)"/>
<circle cx="170.8" cy="565.0" r="2.85" fill="url(#mtg)"/>
<circle cx="176.0" cy="565.0" r="2.85" fill="url(#mtg)"/>
<circle cx="181.2" cy="565.0" r="2.85" fill="url(#mtl)"/>
<circle cx="186.4" cy="565.0" r="2.85" fill="url(#mtg)"/>
<circle cx="191.6" cy="565.0" r="2.85" fill="url(#mtg)"/>
<path d="M 51,543.5 L 199,543.5 C 201.5,545 201,548 199.5,550 L 194.5,567.5 L 46,567.5 C 43.5,566 43,558 44,554 C 45,549 47.5,545 51,543.5 Z" fill="url(#mtshade)"/>
<path d="M 104.9,540.1 L 136,571.3 M 136,540.1 L 104.9,571.3" stroke="#a64a48" stroke-width="5.8" stroke-linecap="round" fill="none"/>
<path d="M 87,121 C 85.5,127 85,136 85.5,142 C 86,146 88,148.5 90.5,148 C 92.5,147.5 93.5,146.5 95,147.5 C 99,149.5 101,150.5 103,151.2 C 108,154 112,156 114.8,159.4 C 116.5,162 117,165 118.4,166.8 C 120,169 122,170.6 124.5,170.6 C 128,170.6 130,169.5 131.3,168.6 C 134,166 136,164 138.6,161.3 C 142,157 145,152 147.7,148.4 C 150,144 151.5,141 152.3,137.5 C 153,135 153,132 152.8,130 C 150,128 146,127.5 143,127.5 L 131,124.6 C 120,122 100,120 87,121 Z" fill="#f2d78a"/>
<path d="M 91,127 C 90,133 91,139 93.5,143 C 99,148.5 107,151 113,152.5 C 119,154.5 123,158 128,161 C 134,159 139,153 143,146 C 146,140 147.5,134 146,131 C 138,128.5 128,126.5 118,125.5 C 108,125 97,125 91,127 Z" fill="#f9e7b0"/>
<circle cx="122.6" cy="135" r="5" fill="#f1d88e"/><circle cx="122.6" cy="135" r="2.8" fill="#f7e3a6"/>
<path d="M 128,124.5 C 134,122.5 142,123 149,126 C 149.5,128.5 147,129.8 143,129.5 C 137,129 132,127.5 128,124.5 Z" fill="#ffffff"/>
<path d="M 89.4,88.2 C 89.5,85 91,83.9 95,83.7 C 101,83.7 107,85.5 111.3,87.8 C 115,89.8 116.5,93 114.5,96 C 113,97.5 111,98.3 109.7,98.5 C 113,97.4 116,97.4 119,97.8 C 128,99 137,103 143,107.5 C 148,111.5 151.5,115 152.3,119 C 153,123 151,126.5 147,127 C 143,127.3 139,125 135,124 C 130,123 126,124 122,124.5 C 115,126 108,125.5 100,125.5 C 95,125.5 90,126.5 87.2,126 C 86.4,118 87.5,111 90.5,106 C 93.5,102 97.5,100.5 99,99 C 98.5,97 96,96 93,94.5 C 90.5,93 89.3,91 89.4,88.2 Z" fill="#fcf2d3" stroke="#f0dfa6" stroke-width="0.5"/>
<path d="M 97,126 C 101,121 112,120.5 119,123 C 123,124.5 125.5,127 126,129" fill="none" stroke="#d9a88a" stroke-width="0.6" stroke-dasharray="0.8 0.8"/>
<path d="M 95.3,127 C 95.5,133 99,138 104.6,139.6 C 110,141.5 116,143 121.2,142.9 C 126,142.8 129,139.5 130.6,136.9 C 131.8,135.3 133,134.6 134.5,134.3" fill="none" stroke="#3f6fb0" stroke-width="0.9"/>
<path d="M 125.2,129 C 128,131 131,133.5 134.5,134.3 C 136,134.5 137,133 138,131.5" fill="none" stroke="#c0504d" stroke-width="0.9"/>
<path d="M 80,142.5 C 84,141 86.5,139.5 89.2,140.2 C 92,141 93,142.5 96,142 C 99,141.5 101,140 104,141.5 C 107,143 109,144 112,143.9 C 116,143.8 120,144.2 124,143.9 C 130,143.2 136,140.5 141.3,139.3" fill="none" stroke="#2d4158" stroke-width="0.9"/>
<path d="M 142,139 c 1,-1 2,-1 2.5,0 M 142.5,141 l 1.5,-0.5" fill="none" stroke="#5a6a7a" stroke-width="0.6"/>
<polyline points="61.50,111.80 61.95,112.96 62.49,113.84 63.19,114.24 64.06,114.12 65.07,113.59 66.14,112.89 67.16,112.31 68.06,112.13 68.78,112.46 69.34,113.28 69.79,114.42 70.23,115.60 70.75,116.54 71.43,117.01 72.28,116.95 73.28,116.45 74.35,115.76 75.38,115.15 76.30,114.90 77.04,115.17 77.62,115.93 78.08,117.05 78.52,118.24 79.03,119.22 79.68,119.76 80.51,119.77 81.49,119.32 82.56,118.63 83.60,118.00 84.54,117.69 85.31,117.88 85.90,118.59 86.38,119.67 86.81,120.87 87.30,121.89 87.93,122.50" fill="none" stroke="#c0504d" stroke-width="1.1"/><polyline points="61.17,112.80 62.21,112.16 63.27,111.48 64.25,111.06 65.07,111.10 65.71,111.66 66.21,112.66 66.65,113.86 67.11,114.96 67.70,115.70 68.46,115.93 69.38,115.65 70.42,115.03 71.49,114.34 72.48,113.87 73.32,113.84 73.99,114.34 74.50,115.30 74.94,116.48 75.40,117.61 75.96,118.41 76.70,118.71 77.60,118.50 78.63,117.91 79.70,117.21 80.70,116.69 81.57,116.60 82.26,117.03 82.79,117.93 83.23,119.11 83.68,120.26 84.23,121.12 84.94,121.49 85.82,121.33 86.84,120.78 87.91,120.08 88.92,119.53" fill="none" stroke="#3f6fb0" stroke-width="1.1"/>
<polyline points="58.00,147.50 59.02,148.47 59.87,148.72 60.51,147.98 61.01,146.61 61.54,145.38 62.25,144.96 63.18,145.52 64.21,146.58 65.19,147.38 65.97,147.29 66.55,146.27 67.04,144.86 67.62,143.85 68.40,143.77 69.38,144.57 70.41,145.64 71.34,146.18 72.04,145.75 72.57,144.52 73.08,143.15 73.72,142.42 74.57,142.68 75.59,143.65 76.60,144.63 77.46,144.87 78.10,144.12 78.60,142.75 79.13,141.52 79.84,141.11 80.77,141.67 81.80,142.74 82.78,143.53 83.56,143.44 84.13,142.41" fill="none" stroke="#3f6fb0" stroke-width="1.1"/>
<polyline points="138.00,131.50 138.70,132.51 139.41,133.24 140.17,133.48 140.98,133.19 141.82,132.47 142.67,131.55 143.52,130.74 144.34,130.29 145.11,130.36 145.84,130.94 146.54,131.89 147.24,132.93 147.94,133.77 148.69,134.19 149.48,134.07 150.31,133.47 151.16,132.59 152.01,131.71 152.84,131.12 153.63,131.01 154.38,131.43 155.09,132.28 155.78,133.33 156.48,134.27 157.21,134.84 157.99,134.90 158.80,134.44 159.65,133.62 160.51,132.71 161.35,131.99 162.15,131.71" fill="none" stroke="#c0504d" stroke-width="1.1"/><polyline points="137.91,132.55 138.76,131.70 139.62,130.80 140.45,130.15 141.25,129.96 142.00,130.32 142.71,131.12 143.40,132.15 144.10,133.13 144.83,133.77 145.60,133.90 146.41,133.51 147.25,132.73 148.11,131.81 148.95,131.05 149.76,130.70 150.53,130.88 151.25,131.55 151.95,132.54 152.64,133.56 153.35,134.34 154.11,134.65 154.91,134.42 155.74,133.74 156.60,132.84 157.45,132.00 158.27,131.49 159.05,131.49 159.79,132.01 160.49,132.93 161.18,133.97 161.89,134.86" fill="none" stroke="#3f6fb0" stroke-width="1.1"/>
<polyline points="162.00,133.50 162.55,134.60 163.17,135.42 163.90,135.76 164.74,135.57 165.68,134.96 166.66,134.16 167.62,133.48 168.49,133.16 169.24,133.37 169.88,134.08 170.45,135.14 171.00,136.27 171.59,137.18 172.29,137.65 173.11,137.59 174.03,137.06 175.00,136.29 175.97,135.55 176.86,135.12 177.65,135.19 178.32,135.78 178.90,136.78 179.44,137.91 180.02,138.91 180.69,139.51 181.48,139.58 182.37,139.15 183.34,138.42 184.32,137.64 185.24,137.11 186.05,137.05 186.75,137.51 187.35,138.43 187.89,139.55 188.46,140.61 189.10,141.33 189.85,141.53 190.73,141.22" fill="none" stroke="#c0504d" stroke-width="1.1"/><polyline points="161.77,134.53 162.74,133.79 163.71,133.02 164.63,132.49 165.45,132.43 166.14,132.90 166.74,133.81 167.29,134.94 167.85,136.00 168.49,136.71 169.25,136.92 170.12,136.60 171.08,135.92 172.06,135.12 172.99,134.51 173.84,134.32 174.56,134.66 175.18,135.47 175.74,136.58 176.29,137.68 176.91,138.50 177.63,138.84 178.48,138.65 179.42,138.04 180.40,137.24 181.35,136.56 182.22,136.24 182.98,136.45 183.62,137.16 184.19,138.21 184.74,139.34 185.33,140.26 186.03,140.73 186.84,140.67 187.76,140.15 188.74,139.37 189.70,138.63 190.60,138.20 191.39,138.27" fill="none" stroke="#3f6fb0" stroke-width="1.1"/>
<g fill="#3f5577"><circle cx="160.5" cy="139.4" r="0.75"/><circle cx="163.4" cy="138.4" r="0.75"/><circle cx="164.3" cy="142.3" r="0.75"/><circle cx="168.7" cy="142" r="0.75"/></g>
<path d="M 95,122.1 L 127.9,154.6 M 127.9,122.1 L 95,154.6" stroke="#a64a48" stroke-width="5.7" stroke-linecap="round" fill="none"/>
</svg>
</body></html>
